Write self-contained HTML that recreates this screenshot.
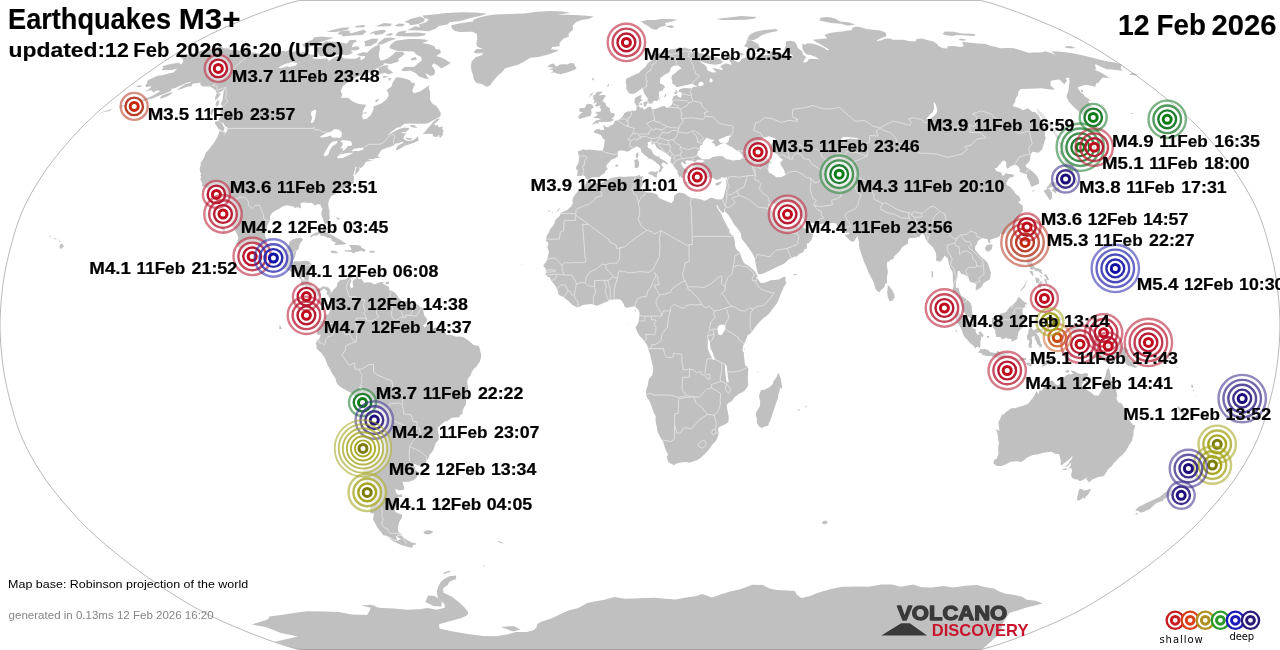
<!DOCTYPE html>
<html><head><meta charset="utf-8"><title>Earthquakes M3+</title>
<style>
html,body{margin:0;padding:0;background:#fff;}
body{width:1280px;height:650px;overflow:hidden;font-family:"Liberation Sans",sans-serif;}
svg{display:block}
</style></head><body>
<svg width="1280" height="650" viewBox="0 0 1280 650">
<rect width="1280" height="650" fill="#fff"/>
<path d="M162 66.3L169.3 64.2L178.8 62.8L181.3 64.6L183.2 61.8L182.7 59L179.6 56.8L183.9 55L194.6 52.9L202.1 50.2L209 49.1L221.2 46.7L224.2 48.2L229.8 48.4L229.6 49.7L237 50.2L242.1 50.7L248 50.9L252.6 52.4L257.1 52.9L260.9 54.9L266.9 53.2L272.3 53.1L279.3 51.5L285 50.7L285.1 52L289.7 49.4L289.2 52.9L296.5 50.7L296.2 53.2L304.3 52L310.4 54.6L316.5 54.9L312.3 58.6L320.1 58.9L326.1 58.2L329 59.7L327.3 62.1L333 58.3L337.1 56.3L340.8 56.5L344 58.5L350.4 58.7L355.7 58.7L360.3 56.3L360.7 60.4L364.7 58L365.2 54.6L370.3 49.5L374.5 46.5L379.5 44.6L380 47.9L379.4 51.2L379.1 52.9L378.7 56.3L380.4 60.4L383.9 60.1L388.2 58L393.1 54.6L395.6 51.7L403 52L404.5 53.9L402.1 56.3L398.4 58.7L398.6 61.5L390.9 63.9L384 63.2L383.4 64.9L378.3 67.4L373.1 71.3L363.5 74.2L357.9 76.3L351.5 79.6L347.5 82.5L342.7 86.5L340.7 91.2L342.3 94.5L340.9 97.7L348.2 97.7L352.7 101.5L358.7 104.1L366.3 104.7L362.9 111L362.2 116L363 119.5L366.8 118.7L371 114.8L373.6 109.1L373.3 106.4L381.3 103.4L386.2 99.6L388.7 95.8L388.1 92.1L386.3 90.2L391.5 86.5L392.5 82.9L395.6 78.1L397.6 77.2L402.6 78.1L406.9 79.2L410.7 80.7L411 82.5L415 82.9L414 86.5L412.1 90.2L413.6 93.2L420.1 91.4L424.6 88.4L429.2 85.3L428.9 88.4L430.1 92.1L429.9 99.4L432.2 103.4L436.3 106L438.5 109.1L440.8 112.9L440.4 116.4L435.6 119.1L427.5 123.4L424.3 123.7L418.7 123.7L412.1 123.4L404.6 123.7L400 127.3L397.3 127.6L391.7 131.6L386.5 135.9L392.9 132.3L399 129L404.2 127.6L408.7 128L409.1 129.2L405.4 132.3L401.4 132.1L403.4 133.5L406.5 132.7L403.9 136.3L403.5 139L405.6 140.2L408.5 141L412.1 140.6L414 139.8L417.8 136.3L418.2 137.8L418.9 140.2L414.2 142.8L408.8 144.6L404.9 145.7L401.2 148.1L396.8 150.5L395.8 148.9L397.9 145.7L403 143L403.3 141.4L397.9 143.2L394.8 143.8L394.3 145L389.8 146.9L386.9 147.7L383.8 149.1L382.2 149.5L379.9 151.9L379.6 153.5L377.9 154.7L378.3 156.3L378.7 157L380.2 156.9L380.1 155.8L380.3 157.4L378 157.9L375.3 158.3L373.4 158.9L370.1 159.1L367.1 160.3L372.8 159.7L373 160.1L369 161.3L365.5 162.1L364.1 165.1L362.5 166.7L360.2 168.3L359.3 166.5L359.5 168.9L359 170.7L357.5 172.5L354.4 175.6L355.3 172.5L355.6 169.7L357 166.5L355.4 167.3L354.4 170.9L353.2 176.1L354.1 176.4L353.8 179.3L353.6 183.1L349.5 185.7L347.2 185.7L343.9 188.7L340.5 189.4L338.5 191.6L336 193.2L332.7 195.4L331.1 196.2L329.1 199.8L328.4 202.6L328.3 205.1L328.8 208.3L329.5 210.5L329.5 214.3L329.8 217.5L328.8 221.2L327.4 223.6L324.9 223.9L323.4 220.8L323.3 219.7L322.3 217.5L321.5 214.7L321.2 213.1L322.5 208.7L321.6 207.7L320.4 204.7L318.5 204L314.2 205.6L313.4 203.8L311 202.7L308.6 202.9L305.9 202.6L302.9 202.6L300.2 203.4L300.7 204.2L300.6 205.9L301.2 207.5L299.6 208.6L298.3 207.1L294.9 208.1L293.3 206.3L290.3 206.1L288.1 205.3L285.2 205.5L281.5 207.1L279.4 208.7L275 210.9L272 213.1L270.7 215.1L270 217.1L270.1 220.6L267.8 224.4L266.3 229.2L264.8 235.4L266.2 238.5L265.9 240.7L266.9 243.3L268.9 247.7L269.7 249.5L272.4 250.3L274.3 251.9L277.6 250.9L280.7 250.1L283.7 249.9L285.6 248.9L287.9 247.1L288.8 245.1L289.6 241.7L291.5 239.9L292.8 239.3L298 238.1L302 238.1L302.8 239.9L301.2 242.1L299.8 243.7L299.2 246.5L298.1 249.7L296.5 250.5L295.6 254.6L294.9 257L293.6 259.6L292.3 261L293.3 261.7L295.6 261.2L299.6 261.5L302.5 260.9L306.1 260.7L308.5 261.3L312.1 264.6L310.9 268.5L310.1 272.7L309.5 275.5L308.8 276.7L308.6 281L310.7 284.7L312.2 286.4L313.3 287.4L315.2 288.8L316.9 289.6L318.7 288.6L321.7 287.3L322.6 286.6L324.9 286.6L328.4 287.6L330.5 290.1L331.7 292L332.1 293.2L332.6 290.8L334.3 288.8L336.6 286.8L337.4 283.1L340 280.3L342.3 279.7L345.5 279.5L347 278.5L351.6 274.9L353.5 276.3L352.7 277.5L350.4 278.3L351.4 280.9L349.8 284.7L351 288.4L353.2 287.2L352.5 281.5L353.6 279.9L356.2 278.7L356.3 277.3L357.5 275.9L358 277.9L358.5 279L361.1 278.9L363.1 281.1L364.1 282.8L367.9 282.3L371 282.4L373.9 284.3L375.7 284.1L377.5 282.9L380.9 282.1L384.3 281.9L385.9 281.8L383.5 282.5L382.1 282.9L384.1 284.3L385.5 285.2L388.6 286.8L389.3 288L389.1 290.4L392 290.6L392.6 291.6L395.1 292.8L397.1 295.6L398.3 297.6L400.5 299.6L402.2 301.1L408.8 301.3L412.9 301.7L418.7 305.2L421 308.1L421.9 307.5L423 309.3L424.3 315.7L426.7 318.2L427.1 320.6L425.2 324.2L422.9 324.9L424.6 327.4L428.5 323.8L430.2 325.6L432.4 326L432 328.2L432 330.8L433.8 327.8L436.1 327.4L440.9 329.4L444.5 331L446.7 334.7L449.9 334.7L455.2 336.3L455.9 336.7L460.6 336.5L463.8 337.3L467.7 340L471.3 343.1L473.5 344.9L478.6 345.9L479.6 348.3L480.6 352.8L481.1 353.8L481 357.4L479.9 361.6L478.1 363.9L475.9 367.3L473.6 369.1L471.8 372.1L470.5 375.7L468.9 377.3L467.3 380.5L467.5 384.6L468.1 388.6L467.7 391.4L467.5 396.2L466 399.1L466.1 403.9L464.4 406.7L462.6 410.7L462.5 413.6L460 415.2L459.3 417.2L455.2 417.4L451.4 417.8L450.1 419L447.9 420.8L444.8 421.6L442.6 423.2L439.7 426L437.8 427.6L437.8 430.5L438.9 436.1L438.7 439.7L435.8 442.9L434.6 446.6L433.2 450.2L431.3 453L429.6 454.4L428.6 458.2L426.5 460.8L425.6 463.5L422.3 465.8L418 465.5L415 463.9L412.1 463.7L409.8 461.9L410.5 464.3L413.8 465.9L415.3 467.7L415.2 469.9L417.6 471.1L418.2 473.5L416.5 477.9L413.3 480.3L409.4 481.5L404.5 481.9L402.5 481.5L403.1 483.9L404.3 487.9L404.2 489.5L402.7 490.1L399.6 490.5L395.3 489.1L395.8 491.9L397.1 494.3L398.7 494.7L401.5 494.3L402.4 497.1L400.2 497.1L397.9 496.9L398.6 499.1L398.6 501.9L399.5 504.3L398.8 505.8L396.5 506.6L394.6 509L395.3 511.8L398.5 513.5L401.9 514.5L402.2 516.7L401 519.2L399.5 521.6L399.1 522.7L398.2 525.9L397.8 529L398.4 531.7L400.1 533.2L402.3 534.5L399 534.8L396.5 535.9L396.2 537.7L397.1 540.1L396.4 540.5L392.6 539L388.9 537.1L385.7 535.5L383.6 535.5L380.2 531.3L377.4 527.4L375.2 523.5L373.1 519.6L373.5 516.1L374 513.7L370.2 512.9L370.3 509.4L370.7 505.8L370.7 501.9L369 499.1L367.8 495.9L367.4 493.1L367.3 491.1L366.3 487.9L366.5 485.3L366.4 483.1L364.4 479.9L362.7 476.3L362.7 474.7L363.5 472.9L363.6 469.9L363.8 467.1L364.5 463.5L364.8 460.2L364.3 458L363.9 454.6L363 451.8L361.4 447L362.3 445.6L361 441.7L361.2 439.7L361.5 435.7L361.8 434L361.8 430.9L361.8 427.2L361.4 423.6L361.1 420.2L360.4 418L360.9 414L360.6 409.5L360.2 406.3L359.6 402.7L358.8 399.4L354.8 396L352.2 393.6L349.6 392L345.9 390.2L343.6 388.8L340.4 387L337.5 384.2L335.8 380.9L336.1 380.1L334.8 377.3L332.1 373.5L330.3 369.7L327.9 365.7L326.2 361.5L324.6 357.6L322.2 354L320.9 352.4L318.5 350.4L316.5 348.3L316.6 345.4L315.7 343.8L317.1 340.7L318.7 339.1L319.5 338.3L320.4 335.9L320.5 333.9L319.1 335.3L316.6 333.9L317.4 331.4L316.9 329.2L318.4 326.6L319.6 325L319.9 321.8L321.3 321.1L324 320L324.4 317.8L325.9 314.5L328.3 314.5L330.6 309.3L329.6 307.7L329.2 302.9L330.1 299.6L329.6 297.8L328.3 295.9L327.3 294.8L326.5 292.6L327.4 291.6L326.4 290.8L324.4 288.8L322.9 288.9L322 290.4L319.6 291.6L319.3 292L320.2 294L320.9 294.9L319.4 295.8L317.6 296L317.2 294.4L315 292.6L313.2 292L310.9 291.8L310.8 292.7L309.7 291.2L309.4 291.3L307.8 291L308.3 289L306.4 287.2L304.9 286.4L304.3 284.9L303.3 286.5L301.3 285.2L300.9 283.3L301.2 281.1L301.6 280.3L299 277.5L297.4 275.5L295.2 273.1L296.6 272.7L296.3 271.3L295 271.5L292.5 271.9L289.8 270.9L288 270.3L284.7 269L281.7 267.6L279.9 266.4L276.7 262.4L274.8 260.6L272.1 259.8L270.3 259.9L267.3 261.6L265.5 262L263.6 261.2L260.4 260.2L257.9 258.6L254.2 257.2L250.6 255.4L248.9 254L246.8 252.8L242.5 251.3L240.2 248.3L238 246.9L236.2 242.9L238 241.9L237.3 240.5L238.4 238.3L237.6 235.2L235.7 231.6L234.4 228.4L231.8 226L230.6 223.6L228.7 222L228.2 219.1L227.3 217.1L225.4 215.1L224.8 212.6L222.9 210.7L221.6 208.3L221.6 205.1L220.9 201L220.1 199L218.2 198.2L216.6 197L215.3 200.1L214.7 204.2L216.8 208.3L218.2 212.3L219.4 215L219.9 216.7L221.1 220.3L222.1 224.4L223.1 227.8L224.7 228.4L225.4 230.8L224.2 232.2L223.3 232.9L222.6 230.6L220.6 228L217.2 226L216.7 225.2L218.3 221.6L216.3 219.5L214.2 217.3L211.9 215.7L210.3 212.9L213.7 212.3L214.3 209.9L212.9 206.7L210.8 204.7L210.8 201.8L210 198.2L210.5 196.7L209.8 194.1L209.7 193.4L210.1 191.8L208.9 189.8L207.5 189.2L207.6 188.1L205.5 187.5L204.2 186.5L201.7 186.3L202.4 183.5L202 182.6L201.2 181.3L200.3 178.9L200.9 177.7L201.2 176.3L200.3 175.3L201.2 173L199.9 172.1L199.9 169.7L199.6 168.3L200.7 165.7L200.6 162.3L202.1 160.9L204.3 157.1L205 154.9L205.8 152.7L208 150.5L211.7 145.7L214.3 142.2L216.1 139.2L217.6 136.7L218.5 133.9L219.6 130.9L223.1 131.8L225.2 132L224 135.1L227 131.2L227.6 129.4L227.3 127.3L225.4 126.5L224.4 125.3L223.7 123.4L220.6 122.2L219 121L218.3 120.1L220.6 116.8L220.2 114.1L220.7 111.8L219.9 110.2L221 107.9L222.7 106.4L221.4 105.3L220.7 103.9L222 101.5L222.6 99.6L222.7 97.7L223.5 92.9L223.6 91L225.3 88.6L222.2 91L219.2 92.5L216.6 93.2L215.7 90.6L213 88.2L210.1 86.5L202.7 86.5L201.4 85.4L200.1 84.5L200.7 82.5L196.6 83.2L192.7 83.7L191.1 86.5L187.2 86.5L184 88L179.4 89.5L176.6 89.7L179.9 87.8L184.4 84.5L189.2 82.9L191.6 81.8L188.9 82L183.9 84L179 86.2L175.4 88L171.2 88.9L171.3 90.8L165.6 93.2L160.6 95.1L154.1 97.7L145.5 100.4L140.2 102.2L135.9 103.4L131.7 104.5L127.3 105.3L124.1 106.2L118.6 107.2L121.9 105.3L126.4 104.7L130.9 102.6L136.6 101.5L141.7 99.6L147.7 97.7L153.2 95.5L157.1 92.9L160.3 91.2L159 90.8L157.1 90.2L153.2 92.5L151.6 90.2L145 91.5L148.5 89.5L151.2 86.9L150.7 86.2L145.9 87.3L145.4 85.4L147.1 83.2L147.1 81.1L148.6 80L153.2 77.8L158 75.6L162.1 75.3L167.3 73.8L173.2 72.5L175.7 70.2L177.1 68.8L171.9 70.1L169.1 70.1L163.7 70.2L161.5 69.9L163.6 67.6ZM402.2 535.7L404.3 538.2L407 540.1L411.7 542.4L416.4 543.4L415.8 544.5L413 544.9L412.3 548.1L406.4 546.6L401.2 545.1L397.2 543.2L393.2 541.3L389.4 538.6L384.8 536.7L390.3 538.6L396 540.9L398.9 540.1L401.1 539L397.4 537.1L397.4 535.9L399.3 535.3ZM423.2 532.5L426 530.5L429.3 530.3L433.2 531.3L431.7 533.2L428.8 534.4L425 534ZM496.3 540.9L501 541.7L503.7 543.8L501.5 543.2L498.2 542.1ZM309.5 237.1L312.1 234.4L316.3 232.4L319.5 231.7L323.3 231.8L325.7 232.2L328.6 233.4L331.9 234.8L335.1 236.9L337 238.1L340.3 239.7L342.8 241.5L346.3 243.5L345.6 244.3L340.3 244.7L336.1 244.9L333.6 245.2L336.1 242.7L333.4 241.7L331.5 240.3L331.1 238.1L327.3 237.7L325.1 236.2L320.6 235.6L319.5 233.8L316.5 235.6L313.3 235.8L311 237.5ZM344.3 251.1L347.9 251.7L351 251.7L353.6 253.6L355.9 251.7L358 251.7L360.2 250.7L364.3 251.7L365.7 250.1L363.6 248.5L361.6 248.1L360.8 245.9L358.1 245.3L354.6 245.1L351.5 244.9L348.7 245.1L350.5 246.9L351.6 250.1L347.7 250.3L345.3 249.9ZM330.6 251.1L332.3 250.5L335.4 250.9L337.7 251.9L337.9 253L335.4 253.2L332.6 253.2L330.7 251.7ZM369.7 250.7L373.6 250.7L375.2 251.1L374.2 252.5L371.6 252.7L369.5 252.5ZM385.7 281.9L389.1 281.5L388.7 284.1L385.5 284.5ZM335.4 217.5L337.1 217.5L339.4 218.1L339.9 219.1L338.7 219.9L336.6 218.3ZM334.6 223.8L336.3 224L336.1 227.2L334.9 228.4L334.2 226.4ZM215.2 121.6L218.4 121L221.5 123L222.8 124.5L223.5 126.5L224.7 127.8L224 130.6L223.3 131.2L220.2 130.2L218.2 128.6L217 126.5L215.1 124.1ZM212.2 108.5L216.2 108.7L213.1 111.8L211.6 115.6L210.5 114.5L210.4 112.2L210.9 110.2ZM440.4 118.3L437.9 121L434.3 124.1L435.9 125.7L437.9 124.5L438.4 127.3L442.7 126.5L442.3 129.6L443.7 130L442.6 133.5L443.5 134.1L440.9 137.6L439.4 137.6L439.2 134.3L437.5 136.7L434.3 136.7L432.7 135.9L433 133.9L428.4 133.7L422.7 133.9L425.5 131.2L427.5 128.4L429.9 126.1L432.9 122.2L436.2 119.3ZM405.3 137.6L408 138L412.6 138.4L410.4 140.2L407.4 139.6L405.9 138.6ZM409.9 124.9L414.4 125.3L417.4 128L415 127.8L411.2 127.1ZM161.9 95.5L165.5 94.3L171.5 92.1L171.8 93.4L168.9 95.5L163.2 97.9L160 98.5L160.5 97ZM137.2 85.8L141.6 85.1L141.3 86.4L138.7 87.3L136.3 86.7ZM1129.4 74.2L1132 73.1L1137.8 74.5L1136.6 75.4L1130.9 74.9ZM104.5 111.8L110.2 109.3L112.5 109.1L109.2 111L105.4 112ZM98.9 113.5L104.7 111L105 111.6L101.2 113.1ZM1171.6 116.8L1174 115.6L1177.8 116.4L1174.6 116.8ZM1164.9 117.9L1167.5 117L1170.3 117.9L1167.1 118.3ZM1130.7 113.3L1133.1 112.9L1133.5 113.7L1131.6 113.9ZM217 93.2L221 93.6L218.3 97.7L214.8 100.4L215.3 97L216.1 94.7ZM217.8 100L219.3 101.5L218.4 105.3L215.9 106.4L215.6 104.1L216.3 101.9ZM59.9 245.5L61.1 243.5L63.3 244.9L64 246.5L60.4 248.9L59.6 248.1ZM58.8 240.7L60.5 240.7L61 241.7L59.5 242.1ZM53.8 238.3L55.2 237.7L55.8 239.3L54.3 239.3ZM49.2 236L50.7 235.4L50.8 236.7L49.7 236.9ZM56.9 239.7L58.9 239.7L58.2 240.3ZM278.8 325.2L280.9 326.6L281.7 329L279.2 329L279.5 327ZM486.7 87.1L482 84L476.3 82.9L473.8 79.2L473.2 75.6L471.8 71.4L470.8 67L471.5 61.7L475.6 57.3L482.1 54.9L483 52.9L476.4 53.6L473.8 52.2L476.3 48.9L482.9 48.9L477.8 46.9L476.4 44.6L476.7 42L477.3 38.1L476.8 34L472.6 31.8L459.6 32.1L455.3 30.9L452 28.7L451.1 25.2L462.2 23.1L472.9 21.5L474.1 19.3L479.2 17.4L487.8 15.4L495.2 14.4L510.3 14.1L523.7 13.4L537.5 11.8L549.7 11.1L562.8 11.6L570.4 12.9L557 14.4L573.8 14.9L584.3 15.4L593.6 16.4L589.6 18.7L581.5 20.1L576.3 22L572.6 25.8L573.1 29.4L568.7 33.4L568.9 36.5L563.3 38.7L559.5 42.9L559.7 46.2L552 46.9L551.1 49.5L558.7 49.7L557 51.2L548.2 54.6L538.4 57L530.3 57.7L523.4 62.1L516.9 65.3L512.2 66.3L504.9 68.5L502.2 72L498 75.6L493.1 81.1L489.9 85.4ZM550.6 72.7L554.7 72.6L556.9 73.6L560.4 74.2L566.2 72.7L571.4 71.1L575 69.5L576.6 68.2L574.5 64.9L574.5 63.6L570.4 63.1L567.2 64.4L564.5 64.3L559.9 64.6L556.7 66.7L555.1 65.6L553.8 63.4L549.8 64.6L547.3 66.7L552.5 67.4L552.8 68.5L547.9 68.9L553.1 70.2L552.8 71.5ZM450.7 62.8L447.6 64.9L441.5 68.5L438.7 66.3L434 63.2L431.6 65.6L435 70.2L434.6 74.5L430.8 76L425.2 72.9L428.2 78.5L429.5 79.6L424.6 78.5L419.1 76.5L415.5 73.1L410.3 70.6L404.3 71.2L401.1 70.2L404.6 67.1L414.3 66.7L418 63.2L421.8 60.4L421.1 57L416.4 54.6L413.6 51.5L406.2 51.2L398.6 51.2L394.6 49.9L389.3 47.9L390.7 44.6L395.8 40.7L408.4 39.1L418.1 39.1L425.2 39.4L427.6 41.3L422 42.9L428.6 43.9L434.3 46.2L435.8 49.2L440.3 49.6L440.8 52.9L436.1 55.9L440.4 57.3L445.5 59.5L448.3 61.5ZM378.5 67.8L384.2 65.6L388.5 65.3L387.4 68.5L390.5 70.6L393.3 72.7L388.7 74.2L384.3 72.7L377.2 74.9L375 73.5L378.8 71ZM383.3 76L386.1 76L388.1 77.1L383.1 78.1ZM389 77.8L391.5 78.5L389.2 80.7L388 80ZM362.4 112.9L365.7 112.3L367.4 113.1L364.4 113.7ZM376.2 99.6L379.4 99.2L376.9 101.9L375.1 101.5ZM316.6 49.2L318 53.6L320.2 56.3L329.7 55.9L338.8 54.6L347.2 55.3L352.9 52.9L350.7 50.5L357.4 50.2L359.9 48.2L357.7 46.2L351.7 47.2L353.1 43.6L357 41.3L355.2 39.7L349.5 40.3L346.9 43.6L340.6 42.6L335.2 42L326.2 41.3L317.6 45.2L323.5 46.5L317.7 47.2ZM302.2 44.6L304.3 47.2L310.9 46.5L318 42.9L328.7 39.4L333.7 37.5L327.9 37.3L322 36.4L314.3 37.2L312.4 39.7L306.9 42ZM356.2 54.6L363.4 51.9L367.6 52.9L367.2 55.3L361.8 56.3L358.6 55.6ZM364 41.6L372.6 38.4L378.3 38.7L376.9 42.3L370.6 45.9L364.9 46.5L365.2 43.9ZM376.5 44.6L380.3 41.3L384.3 38.1L390.4 37.6L396.4 38.4L389 41.3L381.9 44.6ZM395.1 35.6L398.3 31.8L406.8 30.6L405.1 33.1L417.7 32.4L426.2 33.4L424.4 35.6L418.2 36.5L408.5 36.5L399.2 36.2ZM385.1 34.9L390.9 33.1L393.4 34L390 35.9ZM368.7 33.7L374.8 30.9L383.4 29.7L386.5 30.9L382.3 34.3L375.5 34.9L373.9 33.4ZM337.4 34L340.3 31.2L349.4 30.6L350.1 33.4L359.5 30.9L363.6 29.4L366.5 31.8L362.3 34.9L351.9 35.6L342.2 36.5L342.5 34.9ZM326.4 31.8L333.3 29.7L342 27.8L349.9 27.2L346.8 30L337 31.8L331.8 32.1ZM354.7 26.3L362.7 24.9L365.9 25.8L363.7 27.2L356.3 27.5ZM375.3 26.3L383.9 22.9L391.7 23.7L390.7 26.1L382.9 26.6ZM394.5 25.8L398.8 23.4L404.8 24L402.5 26.6L397.9 26.6ZM404.2 22L411.1 18.7L420.6 16.6L425 19L423.9 21.5L418.4 24L410.1 25.2L408.6 22.9ZM407.2 30.3L415.4 26.3L420.1 27.2L418.8 24.6L426.2 22.3L429 19.3L424.2 17.9L422.4 15.4L433.5 14.4L446 12.9L461.7 12.3L476.1 12.5L487.4 13.7L479.8 15.9L469.7 18.2L460.2 20.9L449.7 22.3L447.6 24.6L438.7 26.1L435.7 28.7L428.4 31.2L419.7 30.6ZM418.4 39.1L425.2 39.4L428.6 41L423.1 41.6L417.6 41ZM411 58.3L415.9 57L416.8 59.4L411.8 60.8ZM641.1 21.2L647.7 19.9L654.4 20.1L661.9 19L670.7 18.9L677.5 19.8L671.2 21.7L664.8 23.1L666.2 25.2L659.6 27.2L656.4 30L651.6 28.7L648 26.1L643.4 23.4ZM665.2 26.1L671.9 25.2L674.5 27.2L670.1 28.1ZM744 45.9L746.5 42.9L746.6 40.3L751.5 40.3L758.1 43.9L760.1 48.2L754.2 49.2L748.7 48.2ZM747.1 39.7L748.5 36.5L750.8 34L755.5 31.8L763.8 30L776 29.1L778 30.9L770.1 32.4L762.1 34.9L757.8 38.1L753.8 40ZM716.7 18.7L727 17.7L741.3 16.1L756.9 16.9L753.9 18.7L745.9 19.8L732.8 20.1L721.7 20.1ZM819.5 20.6L820.6 17.7L826.2 16.9L835.3 19L840.5 21.5L848.2 22.3L855.5 24.6L847.8 25.8L840.9 23.7L830.9 22.9ZM838.5 19.8L831 18.2L826.2 16.9L831.2 17.4ZM942.6 34L944.9 31.5L953.6 31.8L961.9 33.4L968.9 34L975.8 34.6L974.2 35.9L961.2 35.3L957.2 34.9L952.5 35.9L945.6 35.3ZM958.2 40L960.9 38.4L966.4 39.7L964 40.7ZM964.1 34L969.1 33.4L975.3 34.3L972.5 35.6L967.2 35.3ZM1064.9 47.5L1066.3 46L1071.5 46.2L1075.5 47.9L1071.2 48.4ZM738.8 53.9L741.5 52.9L744.2 54.6L741.2 55.6ZM763.6 50.5L767 49.5L769.2 51.5L765.6 52.2ZM643.1 89.9L641.7 87.3L641.4 89.1L639.1 90.2L636.5 92.5L634.2 93.4L631.5 94L629.9 93.6L627.6 91.7L627.4 90.4L626.3 89.1L626.4 85.1L625.7 82.9L626 80.7L626.4 78.5L629.2 77.5L631.7 76L633.7 75.3L636.4 73.8L638.9 73.1L640 71.7L641.6 69.9L643.2 68.8L645.4 67.1L646.7 64.9L648 62.8L650 61.5L651.6 60.5L653.1 58.7L647.9 58.3L651.7 56.6L652.9 54.6L655.7 53.6L658 53.2L663 52.4L664.2 50.9L668 50.5L670.4 49.2L674.7 49L679.8 47.3L682.9 47.9L684.6 47.4L686.8 48.2L689.4 48.9L693.7 50L688.5 51L691.4 52.1L693.8 52L697.5 51.4L699.1 53.1L704.5 53.9L708.6 54.9L713 57L717.7 57.7L720 59L722 60.8L722.9 62.1L721.2 63.5L716.1 64.8L709.3 63.9L705.1 63L699.4 61.1L701.1 62.8L704 64.2L706.6 66.7L707 68.6L707.7 70.6L712.4 72.4L716.8 72.3L714.7 70.6L712.3 68.1L714.8 68.3L718.5 69.2L721.4 69.9L722.8 70.1L721.7 67.8L720 66.3L722.3 64.9L725.6 63.2L729.3 64.2L731.4 64.9L731.2 63.2L729.8 61.1L728.7 59L728.4 58L726.4 55.8L729.7 56.3L733.8 57L735.6 58.7L733.2 59.4L736.7 62L739.8 61.8L741.1 59.4L744.5 57.7L750.6 56.6L754.8 57.3L757.1 56.6L763.2 55.6L766.8 54.9L770.5 54.6L768.7 52.2L770.5 51.7L772.4 52L779.1 53.6L782.2 54.6L786.2 54.9L788.2 55.3L792.4 57L792.7 54.9L787.4 52.2L784.6 50.2L784.7 47.9L786 44.9L786 42.6L786.4 41.3L791 40.7L795 42L796.6 44.6L797.8 47.9L802.2 51.2L802.9 54.6L806.3 57L804.3 59.7L803.1 62.5L806.9 62.1L808.3 59.7L810.3 58.7L817.1 59L820.1 59.7L815.9 57L810.8 54.9L806.7 54.6L803.5 51.2L802.3 47.9L802.5 45.2L801.6 43.9L805.8 44.6L807.4 43.3L811.4 43.6L815.8 44.6L818.9 45.6L824.3 47.9L827.1 50.2L829.2 49.5L824.9 46.9L820.8 44.6L812.4 39.7L820.4 39.1L826 38.4L827 38.1L824.3 34.9L829.8 33.1L837.2 32.1L842.5 31.5L847.4 30.6L851.7 30.3L852.5 27.8L856.4 26.6L861.4 27.5L866.7 29.1L873.2 29.7L880.2 30.6L884.4 32.1L886.4 33.4L885.9 36.5L881.6 38.1L877.5 40L876.3 41.3L881.5 40.3L884.7 38.7L890.2 38.4L893 39.7L904 39.7L909.5 41.3L915.6 41.3L916.7 39.1L922 38.4L926 39.7L933.3 41.6L937.9 44.6L937.8 45.7L943.3 48.2L947.5 48.5L947.3 46.2L949.9 46.2L953.2 45.9L960.7 46.9L963.7 46.2L962.5 43.3L962.3 41.8L967.8 42.6L977.8 43.6L985.7 43.9L990.8 45.9L994.2 46.5L1000.2 48.2L1007.3 47.9L1014.1 48.2L1022.8 50.9L1029.4 52.9L1031.3 52.4L1036.6 52.5L1042.6 52.2L1045 51.2L1051.2 52.9L1055.9 55.3L1051.4 51.2L1058.2 51.5L1065.6 52.2L1074.1 53.6L1081.3 54.9L1089.5 57L1100.1 59.7L1108 61.5L1114.8 62.5L1120.7 64.3L1121.8 64.8L1121.3 66L1120.8 68.5L1123 70.6L1120.6 70.6L1116 69.9L1111 69.2L1107.4 69.5L1100.8 66.7L1095.3 63.9L1095.4 66.7L1096.6 69.5L1093.7 69.4L1099.9 72L1105.1 74.9L1109.8 78.3L1102.8 77.4L1100.4 80L1098.4 82.9L1096.1 83.2L1095.4 86.7L1086.5 84.7L1082.1 85.8L1080.1 86.5L1077.7 86.9L1078.6 89.5L1080.5 92.1L1083.1 94L1084.7 96.6L1088.6 98.8L1091 101.1L1088.2 100.7L1089.9 104.5L1092.7 106.4L1089.4 107.9L1092.3 112.5L1088.7 112.9L1091 116.8L1089.9 121.1L1084.9 117.2L1080.6 112.9L1074.1 107.2L1068.6 101.5L1066.4 96.6L1067.2 94L1068.5 90.2L1069 85.4L1069.6 81.1L1069.1 77.8L1065.7 78.1L1067 80.7L1064.3 84.3L1059.3 79.6L1053.4 80.3L1050.6 81.1L1050.6 85.4L1054.8 89.5L1050.5 89.5L1041.5 88.2L1036.5 88.4L1029.8 88.8L1020.7 89.1L1018.3 91.7L1018.1 94.7L1015.7 98.5L1014.8 102.6L1012.6 106L1019.6 108.3L1023.2 110.2L1025 109.5L1027.9 108.3L1032.3 111.8L1035.3 112.2L1038.7 115.6L1040.5 118.7L1042.7 124.5L1044.9 128.5L1044.8 134.3L1045.7 138.2L1044 143L1042.9 146.5L1042.3 149.3L1038.5 152.7L1032.8 151.7L1031 153.7L1030.7 154.9L1030.1 158.1L1030.2 160.1L1027.9 163.3L1025.4 164.9L1026.5 167.5L1030.6 169.7L1034.3 173.3L1037 176.1L1038.9 180.1L1039 183.7L1035.8 184.9L1033.1 186.5L1031.1 186.5L1029.5 181.7L1027 177.3L1026.8 174.3L1023.3 173.3L1019.7 171.7L1019.9 169.3L1017.8 166.1L1014.9 164.5L1011.2 166.1L1006.9 168.9L1006.3 166.1L1006.2 162.5L1004.6 160.5L1002.2 160.9L1000.4 164.1L999.3 164.5L997.1 167.7L994.9 168.3L996.2 170.9L1000 172.1L1001.6 172.9L1002 175.3L1003.8 175.7L1005.4 173.3L1009.3 173.9L1013.6 174.5L1013.8 176.7L1009.6 177.7L1008.2 179.8L1006.4 182.5L1006.7 184.9L1010.4 186.9L1013.9 191L1015.5 193.8L1019.2 196.6L1020.7 200.2L1018.3 202.2L1020.6 204.2L1022.4 204.7L1022.9 207.5L1022.9 211.1L1021.3 212.7L1019.9 215.5L1018.9 218.3L1018.5 220.3L1017.3 223.6L1016.4 225L1014.6 226.6L1012.2 229.6L1010.6 231.2L1006.7 233.6L1004 234L1002.4 235.2L1000.1 233.6L1000.3 235.8L996.9 237.7L993.9 238.5L990.2 239.7L990.4 242.9L988.7 243.3L987.3 238.9L985.2 238.7L983 238.1L981.4 238.5L977.6 241.3L977.2 243.7L975.2 246.5L975.1 249.7L978.2 253.4L981.2 257L983 258.4L985.3 260.2L988 263.4L989.6 268.6L991 273.1L990.3 275.7L990.5 277.3L989.6 279.5L986.9 281.1L983.6 283.3L982.6 284.7L982.3 286L980.7 287.6L978.3 289.2L975.7 290.4L975.8 286.8L976.6 284.7L974.3 283.1L973.2 282.5L970.7 282.3L969.2 280.3L968.7 278.3L967.1 276.3L964.8 274.7L962.3 274.1L960.9 274.1L960.8 272.9L959.2 270.7L957.5 271.5L957.6 274.3L957.3 277.5L955.9 281.9L955.8 286.4L956.6 288L958.5 287.6L959.3 291.2L961.3 296L963.8 297.2L966.4 299.6L967.3 300L970.1 302.5L970.7 303.5L971.9 306.9L971.8 309.7L972.3 313.7L973.5 315.1L975 319.4L973.4 320L972.4 319.8L970.6 318L967.9 316.1L966.2 314.9L964.6 312.9L962.5 309.3L961.8 308.1L960.7 303.3L960.4 300.4L959.3 298.6L957 295.6L955.1 292.6L953 293.6L952.7 290.4L953.6 285L952.9 280.7L952.8 274.9L952.5 271.5L950.5 268.6L949.1 264.6L947.7 258.6L946.1 257L944.8 255.4L943.1 258.2L940.6 261.4L938.9 261.6L936 260.6L936.4 256.6L935.7 252.5L933.9 248.9L932.6 246.9L929.4 243.9L927.1 241.7L925.5 238.7L924.5 235.2L922.9 233.6L920.9 234.4L919.5 236.9L916.8 237.3L914.4 238.1L911.8 237.9L909.9 238L908.3 239.3L908.2 241.5L907.8 243.7L905 245.3L901.9 247.5L899.8 250.9L897 253.8L893.8 256.8L893.9 258.6L891.9 259.4L890.2 260L889.3 261.6L887.2 261.8L886.8 264.6L887.1 267L888 272.3L886.8 276.9L887.1 281.7L887.1 283.5L885.2 283.5L884.2 287.6L881.4 289.6L879.4 292.5L877 290.8L875.7 289.2L874.5 285L872.4 279.7L870.9 277.3L868.7 273.1L867 268.6L865.7 265.4L864.4 262.8L862.9 258.6L860.8 252.5L859.7 248.7L859 245.3L859.1 242.1L858.4 240.1L857.4 235.6L856.6 237.5L854.4 240.9L852.8 241.7L850.4 240.9L847.5 237.9L845.1 235.4L845.3 234.6L848.6 234.2L849.8 232.6L846.2 233.1L843.4 231.2L841.9 229.6L839.7 228.8L838.5 227.2L837.1 225.2L835.7 223.2L831.9 223L828.8 223.6L824.8 223.4L820.9 224L819 224.2L814.9 223.2L811.1 222.8L805 221.8L801.9 217.5L799.3 215.7L796.8 217.5L794.8 218.1L791.6 217.5L788 216.3L786.5 214.3L782.6 212.9L779.9 208.5L778.4 205.9L775.2 204.2L772.6 202.6L769.7 204.4L769.6 206.9L771.6 209.9L776.5 216.3L778.4 218.5L778.9 221.6L781 225.2L781 222.4L782.3 219.7L783.6 223.2L783.4 226L784.9 227.6L787.6 227.6L791.1 228L793.8 226.6L796.6 223.4L798.7 221.2L799.8 218.9L800.1 222L800.3 224L802 227L808.5 230L810.2 232.4L813.1 234.2L812.1 238.5L809.6 242.5L806.9 243.7L806.9 248.5L804.5 249.3L802.9 252.5L798.8 254L796.9 256.6L794.8 256.6L791.3 258L788.3 259.8L784.3 263.4L780.8 265.2L777.7 266.5L773.9 268.6L768.7 271.1L763.5 273.5L760 274.3L758.1 274.1L757.3 271.5L756 265.4L755.4 262.2L754.9 259L754.3 257L751.8 252.5L748.8 248.1L745.8 243.9L741.5 238.5L740.8 233.2L737.2 228L734.1 224.4L731.2 219.3L728.4 214.9L725.8 211.9L724.5 212.3L725.5 206.3L723.3 213.4L721 211.3L718.7 208.3L717 204.4L715.8 199.2L720.9 199.6L723 198.2L723.9 196L724.5 193L725.8 188.5L726.7 186.3L726.1 182.1L726.5 180.1L727.1 177.7L726.2 176.9L724.6 177.9L721.8 176.9L720 178.9L716.3 180L713.3 177.9L708.8 176.7L708 179.3L705.4 179.3L703.6 177.5L700.7 176.7L697.9 177.3L697.8 176L697.1 172.7L693.9 170.9L696.5 170.5L695.4 169.3L694.9 166.9L692.7 166.2L693.1 164.1L693.7 163.5L696.6 162.5L698.7 162.7L702.1 162.5L705 161.1L702.1 160.1L702.4 159.2L703.8 159.3L706.1 159.3L709.6 158.9L710.9 158.3L712.7 157.1L717 156.2L721.5 156L724.1 157.3L725.8 158.9L728.9 159.5L730.9 160.1L732.6 160.4L736.8 160.1L739.4 159.9L742.1 158.5L742.8 157.5L742.5 155.5L739.9 152.1L735.4 149.7L733.1 147.7L728.7 145.4L727 144.6L725 143.4L727.4 142.8L729.1 140L729.1 137.5L732.1 135.5L726.7 135.9L724.5 137.3L720 139L718.5 139.5L719.3 141.4L721.1 143L724.3 142.8L720.9 144L719.7 144.8L717.2 146.1L715.9 146.5L715.1 145.7L714.3 143.4L711.5 142.8L713.5 140.8L714.7 139.8L712.2 139.8L708.9 139L708 137.8L705.5 138.2L704.9 139.8L702.7 142.2L702.7 143.4L702.5 144.8L700.3 145.4L699.7 147.4L699.7 148.9L699.4 150.6L697.8 151.3L697.8 153.3L696.6 154.1L698.6 156.6L700.5 158.1L702.2 159.2L701.8 160.1L699.5 159.8L697.1 160.1L695.5 161.7L694.6 162.5L693.1 163.9L694.9 161.7L692.4 161.3L691.9 160.7L688.9 160.5L687 160.3L685.1 161.3L686.8 163.5L684.9 164.3L683.7 163.3L682.3 161.7L681.2 162.5L681.3 164.1L682.4 166.1L683.4 167.7L686.7 169.5L688.3 172.1L686.6 173.5L685.2 172.4L683 172.4L683.8 174.1L683.8 174.9L682.4 173.9L683 176.1L684 178.3L681.8 177.1L681.7 178.5L680.2 176.1L679.6 177.2L678.9 176.7L678.7 175.1L677.4 173.5L677.7 171.3L677.7 170.7L676.6 169.9L675.4 168.5L674.2 166.9L673.7 166.1L672.8 164.6L670.6 162.5L670.8 158.9L671.2 156.9L669.8 156.4L667.7 154.5L666.2 153.5L663.9 152.1L660.7 150.1L658.9 149.2L656.7 147.7L655.6 145.4L654.2 142.9L652.4 145.1L651.1 142.4L651.9 141.6L649.8 141.6L647.5 142.6L648.1 144.4L647.4 146.3L648.2 147.8L651.2 149.6L652.4 152.1L653.6 154.2L656.2 156.1L657.4 156.4L660 156.6L659.2 157.6L660.4 158.8L662.4 159.5L666 161.5L667.8 163.5L667.4 164.9L666.2 163.9L663.6 162.2L661.6 163.7L661.3 165.1L663.5 167.7L661.8 168.9L661.6 170.5L660 172.4L658.7 171.7L659.3 169.5L660.4 168.5L659.9 166.5L658.8 164.3L657.3 163.9L656.3 162.7L655.6 161.4L654.1 161.7L653.9 160.7L651.6 159.3L649.9 159.1L648.5 158.3L647.2 157L645.8 155.7L643.6 154.5L643.1 153.1L641.6 152.4L641 149.9L640.6 148.5L639.5 147.8L636.6 146.5L635.1 146.9L633.7 148.6L632 149L630.4 149.9L629.2 151L626.9 151.7L625 150.9L622.6 150.6L619.7 150.5L618.1 151.3L617.6 153.3L618.3 154.8L617.6 156.7L614.6 158.6L611.5 159.7L610.1 161.3L608.6 162.7L607.2 164.2L606.1 166.3L607.8 169.1L605.4 170.7L604.5 173.6L601.5 174.7L599.4 177.2L595.1 177.3L592 177.2L588.8 179.6L587.9 180.1L585.7 178L585.4 176.9L583.7 175.3L580.4 176.1L576.9 176L577.6 172.3L577.6 170.1L575.7 168.9L576.3 166.7L578.2 163.5L579.2 159.5L578.8 157.3L578.8 155.3L577.8 152.5L578.2 151.3L580.8 150.6L583.3 149L585.2 149.9L589.1 149.5L595.6 150.2L598.3 150.5L601.4 150.8L602.8 150.2L604.1 145.7L604.6 141.8L604.7 139.6L602.7 138.2L601.6 135.9L600.7 135.1L598.9 134.3L595 133.1L593.9 132.2L593.9 131L596.4 129.5L599.6 129L600.4 130.2L602.6 129.8L604.2 129.9L603.9 129.1L603.1 125.6L605.1 125.8L605.6 127.1L608.1 127.3L609.3 126.5L609.7 125.7L612.5 124.8L614 123.7L614.2 121.7L615 120.8L616.6 120.4L618.3 119.8L620.1 119.1L622.1 116.9L623.5 115L624.2 113.1L626.1 112.2L628 111.3L630.7 111.2L631.6 111.6L631 110.4L634.3 110.8L635.6 110.8L636.1 109.6L637 109.5L636.6 108.7L635.8 107.9L637.2 107.3L636 105.7L635.4 103.5L634.3 103.2L634.5 101.5L634.7 98.8L635.9 97.3L639.9 95.5L641.7 95L641.6 96L640.9 97.7L640.9 99.2L642.7 99.9L641.5 100.9L640.6 100.9L640 102.6L639.3 103.1L638.5 103.4L639.1 104.3L639.4 105.7L638.4 106L640.4 107.8L643.3 107.4L642.7 109.3L644.3 109.5L646.3 108.4L647.5 107.3L650.1 106.5L650.9 107.1L652 108.9L652.7 109.4L656.6 108.4L660.4 106.9L662.5 106.2L665 106L665.8 107.6L668.1 107.8L669.5 106.6L671.2 105.5L672.8 102.6L672.2 99.6L673.6 96.2L676.5 94.9L678.1 96.4L680.3 97.8L681.1 97.5L681.6 94.9L681.8 92.6L678.9 91.9L678.7 90.4L680.1 88.9L682.1 88.6L685 88L691.5 88.6L692.4 87.7L694 86.7L697.4 86.8L695.8 85.8L692.7 84L688.6 84.5L682.4 86L676.8 87.2L674.6 84.9L672.1 83.6L672.3 82.4L672.3 80.9L671.4 78.1L671.8 75.3L673.8 74.2L675.8 72.6L679.2 69.6L681.7 68.5L679 65.9L677.8 65.6L675.2 65.6L672.6 66.4L671 67.4L670.3 69.5L670 71.3L668.2 72.9L665.5 74.2L662.9 76L662 76.9L660.4 77.8L660 80.2L659.9 81.8L660.3 84L662.3 84.3L664.3 85.4L664.9 87.5L663.2 89.1L662.8 90.6L660.1 91.2L658.7 91.7L659.3 94.9L658.8 96.7L658.6 99L657.8 100.7L656.5 100.9L654.3 100.8L652.7 101.8L652.9 103.2L651.3 103.6L648.3 103.8L648.9 103L647.9 101.3L647.2 100.4L648.3 99L646.6 97.3L645.5 95.1L644 93.2L643.4 90.5ZM591.6 124.3L593.7 123L595.5 120.6L598.8 119.9L601.2 118.7L599.8 118.8L597.4 118.3L594 118L593.4 117.2L595.4 116.4L597.3 115.2L597.4 113.3L595.4 113.7L596 111.8L598.5 111.8L600.7 111.4L600.9 109.8L601.6 108.7L600.4 108.7L599.4 107.2L601.2 105.5L599.6 105.7L597.1 106.4L595.8 106.7L595.2 105.5L596 104.3L596.7 103.5L596.1 101.7L593.3 104.1L594.1 101.5L594.6 99.9L592.6 98.7L593.8 97.7L592.6 95.8L594.5 95L595.7 94L596.9 91.7L601.1 91.7L602.6 91.5L602.3 92.4L599.8 94.3L598.7 95.8L601.4 95L605.2 95.1L605.8 95.8L604.8 97.2L603.6 98.8L603.1 100.4L601.1 101.6L603.2 101.5L604.6 102.4L605.7 103.4L606.1 105.3L606.7 106.6L608.3 107.3L609.9 108.6L610.3 110.7L609.1 110.2L609.8 110.7L610.9 112.3L610.4 113.5L611.3 113.1L613.7 113.2L615 114.5L615 115L613.7 117L613 117.6L611.6 118.7L613.7 119.2L613.4 120.2L612.3 121L610.1 121.7L606.9 121.7L605.3 122.2L603.5 121.7L601.7 122.5L600.3 121.7L598.8 122.1L597.9 123.7L596.4 123.2L593.1 124.6ZM588.6 103.8L592.1 104.4L593.3 106.6L593.9 107.6L591.2 109.1L591.4 111.6L591.7 113L590.3 116.1L588.4 116.2L584.4 117.5L579.5 118.9L577.9 116.4L580.3 114.7L579.7 114.6L582.8 112.2L579.1 111.4L579.5 109.2L580.3 107.9L584.5 107.9L585.5 106.8L585.8 104.7ZM643.2 102.6L645.3 101.7L647.7 101.3L647.7 103L646.5 104.5L646 106.4L643.9 106.6L643.6 104.5ZM639.4 103.4L642.1 103.2L642.4 104.9L640.6 105.1ZM663.9 97.7L665.2 94.3L666.6 94.3L665.6 96.6ZM658.8 100.7L660.1 96.6L660.7 96.6L659.4 100.4ZM674.2 92.9L674.6 92.1L678.2 91.5L677.5 92.7L675.3 94.2ZM674.7 90.6L676.4 89.9L677.3 91L675.9 91.4ZM648.1 172.9L650.9 171.3L654.9 171.9L658.5 171L656.9 174.5L657 177.4L654.6 176.9L651.6 174.9L648.8 173.9ZM634.1 160.3L637.4 159.1L639.2 162.1L638.7 166.9L636.9 168.1L634.7 168.1L634.8 162.9ZM635.5 154.5L638.1 152.1L638.5 155.3L637.4 158.5L636.1 157.9ZM685.3 181.9L687.5 181.9L691.2 182.7L694.6 183.1L694 184.1L689.6 184.3L685.5 183.1ZM714.7 183.9L717 182.7L722.1 181.3L720.3 184.1L717.2 185.7ZM614.9 165.7L617.4 164.5L618.5 165.3L617.1 166.9L615.7 166.5ZM699 179.5L700.6 178.3L700.4 180.1ZM692.1 167.3L693.9 166.7L694.3 167.9L692.7 168.1ZM591.6 78.5L594.2 78.1L593.3 80.7ZM607.1 86.5L608.1 84L609.3 84L608.2 86.9ZM588.9 97.7L590.8 94L593.3 92.5L592.5 94.3ZM1059.1 142.1L1070.3 148L1072.9 146.8L1073.8 149.3L1076.9 150.6L1073.3 152.2L1072.2 156.4L1065.2 153.6L1064 154.8L1061.3 154.1L1064.4 157L1063.5 158.5L1062.2 156.6L1059.4 153.7L1059.4 150.7L1062.9 151.1L1062.1 148.4L1058.6 142.6ZM1065.5 158L1067.6 158.5L1069.7 161.9L1073.2 165.5L1073.6 168.5L1072.9 171.1L1075.4 176.3L1077.3 181.2L1075.4 184.5L1074 181.7L1074.3 183.5L1072.9 182.9L1072.6 185.7L1070.9 183.7L1070.5 185.7L1068.6 185.5L1066.5 185.8L1065.1 183.9L1066.5 186.9L1064.6 187.9L1064.2 190.4L1060.7 187.3L1060.9 185.5L1056.2 185.9L1051.5 186.7L1049 188.3L1047 188.3L1046.3 186.7L1047.9 186.5L1049.3 184.5L1050.4 182.4L1052.2 181.9L1055.5 182L1058.4 181.1L1060.5 182.1L1061.4 181.5L1060.5 180.2L1061.5 177.7L1060.5 174.9L1062.3 174.1L1062 175.9L1063.2 177.1L1066 175.5L1067.1 172.4L1067.5 170.1L1067.7 168.4L1065.1 164.3L1065.5 163.3L1064.3 161.7L1064.3 159.1L1066.6 160.7ZM1047.2 188.5L1050.3 189.6L1050.6 191.2L1052 192.4L1051.7 193.9L1051.9 196.6L1052.3 198.7L1051.3 198.3L1050.5 200.2L1048.9 199.1L1047.9 197.2L1046.3 194.8L1045.2 193.2L1044.2 191.8L1043.3 190.8L1044.5 190.3L1045.8 189.8ZM1051.6 190.8L1053.2 188.7L1053.8 187.9L1056.9 186.7L1059 187.3L1060.1 188.8L1059.1 191.2L1056.6 190.2L1056 193.3L1054.6 192.6L1053.5 191.4ZM1074.8 148.9L1075.9 146.5L1074.7 146.1L1074 148.1ZM1077.8 146.5L1081 142.2L1080.2 142L1077.1 145ZM1082.9 141.8L1084.8 139.4L1083.9 139L1082.1 141ZM1088.1 124.5L1088.9 121.8L1087.2 121.2L1086.5 123.4ZM1081.4 92.1L1080.6 89.5L1083.4 90.2L1082.8 92.1ZM1101.1 104.1L1104 105.3L1104.9 106.4L1102.6 105.3ZM1025.7 223.2L1027.1 224.4L1027.4 226.4L1026.9 228.4L1026.3 233.4L1025.8 236.9L1023.3 234L1022.5 232.4L1022 229.2L1022.9 227.4L1023.8 225.2L1024.4 224ZM990.4 244.3L992.6 244.7L991.7 249.3L988.5 251.7L985.6 250.5L985 248.1L986.4 245.5L988.2 244.7ZM888.7 285.4L892.4 290.5L894.2 293.9L894.8 297.3L892.4 300.4L890.6 301.2L889.2 300.7L887.8 297.1L887.2 292.8L887.6 288.9L887.8 285.8ZM1031.9 191L1034.1 190L1034.5 191L1032.6 191.4ZM792.9 274.5L795.3 273.9L797.1 274.5L794.7 275.5ZM931.7 270.7L933 271.5L933 276.7L931.9 278.3L931.5 274.7ZM936.8 296L937.8 296.8L937.4 297.8L936.7 296.8ZM717 204.4L715.8 199.2L714 198.2L711.3 197.8L709.3 198.2L707.7 199.4L704.5 200.8L698.6 198.8L691.4 198L687.4 195.8L684.3 193.6L679.5 192.4L676.9 193.4L674.1 195.8L673.9 200.2L671.4 203.2L667.2 201.4L662.4 199.4L658.3 197.4L657.3 194.6L654.5 193.6L650.8 192.6L647.1 192.4L645.1 191.6L643.7 190.2L640.3 188.5L642.5 185.1L643.7 183.1L642.2 180.8L642 178.5L643.5 175.8L641 176.7L639.6 174.9L635.8 176.3L632.6 176.5L629.7 176.5L625.9 176.8L623.6 177.1L619.7 176.4L616.9 177L611 178.1L606.9 180.4L604.4 181.3L601.8 182.9L599.1 183.7L596.6 182.9L593.4 183.1L590.8 183.3L588.8 181.7L588.9 180.5L586.8 181L585.9 183.3L584.2 187.1L583.3 188L580.7 189.8L577.6 191.2L574.8 195L572.9 198.2L572.3 201.7L573.2 202.6L571 206.7L566.8 210.3L561.3 212.5L559.5 215.9L555.5 219.8L553.9 224.4L550 229.6L549 232.4L546.8 235.6L545.7 241.3L547.6 241.7L548.5 243.7L547.4 246.9L548.9 252.1L546.9 260.6L543.2 265.8L545.5 268.6L545.7 269.5L546.2 270.9L545.6 274.7L547.4 276.7L549.6 277.3L551.6 281.1L553 282.7L556.1 286.8L557.6 290.8L558.8 294.8L563.7 297.2L566.2 299.6L568.8 301.3L572.4 304.9L577.1 307.4L580.9 305.9L582.9 305.1L590.3 303.9L593.5 304.5L597 305.9L598.3 305.3L600.1 304.5L603.8 302.7L606.8 301.7L608.8 300.3L613.1 299.4L616.6 299.2L620.5 299.6L622.3 301.7L623.7 304.1L624.4 306.5L626.1 307.7L629.3 307.3L634 306.5L634.7 305.9L636.1 307.7L637.2 308.9L638.4 309.7L639.6 313.1L639.2 317.5L638.6 320.8L638 323.4L635.4 327.5L637.5 332.6L638.9 335.1L642.3 338.8L646.6 344.3L647.8 347.3L648.2 349.4L650.1 354.4L651.4 360.5L652 362.4L653.3 368.2L652.5 374.7L652 375.6L648.8 378.9L648.1 383.4L647.6 386.2L646.5 388.6L646.1 391.8L646.1 394.4L647 397.5L649.8 401.5L651.9 407.5L653.8 412.7L655.7 416.3L655.6 421.6L656.8 426.8L657.7 432.3L659.6 436.1L662.1 440.2L663.5 442.7L664.9 447.8L667.1 453L668.1 454.2L667 456.8L666.7 457.8L668.3 461.5L668.5 463.3L669.6 462.3L669.7 463.4L671.1 463.5L673.5 465.2L676.6 463.5L680.9 462.6L683.9 462.2L685 462.1L689.9 462.7L692.5 461.7L694.9 460.8L697 460.2L700.5 457.9L703.7 455L706.4 452.3L708.7 450L711.8 445.2L715.7 440.9L716.9 439.2L718.8 433.2L718 429.5L718.8 427.2L721.8 425.8L724.8 424.4L728.4 422L728.4 421.1L728.8 417.2L728 413.6L727.5 410.3L727.2 409.3L726.8 404.8L729.5 402.3L732 400.9L734.6 397.2L738.6 394L742.5 392.2L745.1 390.3L748.2 385.5L748.1 383.6L747.8 377.2L748.2 371.3L748.2 368L746.9 366.3L745.2 365.3L744.6 360.9L744 356.8L743.9 352.5L742.5 350.9L742.9 346.9L743.3 345.4L745.4 341.3L746 339.6L747 338L747.3 335.5L749.8 334.1L752 331.8L755.7 326.5L759.1 322.6L761 320.6L763.6 318.1L765.6 316.8L769 313.7L772.5 308.9L776.8 303.5L778.7 299.6L781.1 292.9L782.4 290.4L783.8 286.8L786.5 283L785.3 279.9L785.9 277.4L784 276.8L778.5 279.6L774.4 280.1L770.8 280.3L763.8 283L760.3 282.7L758.3 279.3L757.2 278.3L755.2 278.5L757.6 276.8L756.8 273.9L755.6 272.7L753.9 270.3L751.7 268.6L749 265.9L746 264.6L744.9 263.8L743.6 262.2L741.9 258.6L740.3 254.2L740.2 252.5L737.7 250.7L735.7 248.1L735.1 246.1L734.9 241.3L733.6 236.4L729.3 232.4L729.5 228.8L728.3 228.6L726.1 224.1L723.8 219.9L722.5 217.3L722 215.3L720.9 213.1L719.2 210.9L717.5 207.9L716.4 205.9ZM778.7 373.1L780.7 378.5L781.5 382.4L781.8 385L782.4 386.5L781.3 389.3L779.8 387.1L779.8 390.1L778.2 395L778 398.1L776.4 402.3L775.5 405.1L773.6 410.5L772.3 414.2L771.5 416.9L770.1 420.8L768 425.7L764.5 426.8L761.4 428L758.6 426L756.8 422.8L756.9 419L755.8 414.4L756.2 412.5L758.2 408.7L759.7 406.6L760.3 401.5L759.2 397.7L759.1 395L761.1 390.1L764.1 389.8L767.7 388.3L770.6 386.2L772.9 383.9L773.6 380.9L775.1 378.9L776.9 376.5L777.4 374.5ZM547.7 210.9L550.2 210.1L549.4 212.1ZM551.4 212.3L552.8 211.7L552.7 213.1ZM556.6 211.9L558.3 209.5L559.6 207.5L559.7 208.7L558 211.5ZM521.4 263.4L522.3 264.6L521.7 265ZM797.8 409.5L799.7 409.5L799.2 410.9L797.8 410.7ZM805.3 406.7L806.6 405.5L806.8 406.9L805.6 407.5ZM757.5 370.9L758.4 371.7L758 372.9ZM743.6 348.1L744.2 349.6L744.8 350.8L744.5 348.7ZM634.5 310.1L636.1 309.9L635.4 311.9ZM627.6 323.4L628.4 323.8L627.7 324.8ZM1108.8 368.1L1109.7 371.3L1110.6 375.3L1110.8 380.5L1114 382L1111.6 383.4L1115.8 387.3L1116.6 393.1L1117.3 395.4L1116.3 398.5L1118.4 402.5L1120.8 402.7L1122.8 405.5L1125.2 410.1L1125.9 414.8L1128.8 418.1L1129.9 421L1132.9 424.7L1135.4 425.6L1133.5 431.2L1133.4 435.3L1132.5 437.7L1132.3 440.3L1129.9 443.7L1128.1 447L1125.5 451.5L1122.8 454.6L1119.1 457.5L1115.8 461.3L1113.4 463.6L1111.7 466.3L1108.6 468.7L1106.5 471.9L1104.9 474.2L1104.2 475.9L1098.7 477.1L1096.8 477.4L1092.4 479.5L1088.9 482.5L1087.6 480.5L1086.5 479.5L1086.6 477.3L1084.9 479L1080 481.3L1077.5 479.5L1074.7 479.3L1072 478.1L1071 474.7L1072.3 469.9L1071.1 468.1L1068.3 468.3L1070.9 465.5L1070.9 462.6L1069.6 463.9L1068 466.3L1064.7 466.9L1068.2 463.9L1069.6 461.6L1072.1 458.6L1072.4 455.8L1070.9 458L1067.7 460.6L1063.7 463.4L1062.4 464.8L1062.4 465.8L1060.5 464.3L1060.8 460.4L1059.9 457L1059.1 454.3L1055.1 453.7L1051.5 451.8L1047.4 452.2L1043.4 452.7L1038.2 454.2L1032.9 455L1026.8 457.8L1023.8 460.3L1020.9 461.9L1016.8 461.3L1010.6 461.7L1007.6 463.5L1001.6 466L997.6 465.9L995.5 465.3L993.3 463.3L994 460L996.4 459.1L997.7 455.9L998.6 453.6L998.3 449.9L998.2 447L999 442.7L998.4 440.8L998 436.5L997.2 432.3L995.9 430.3L997.4 429.4L999.4 430.9L998.7 425.1L998.3 422.4L1000.4 418.2L1002.7 412.7L1002.6 415.6L1006 412.1L1009.5 409.5L1012.2 408.1L1015 408.3L1019.1 406.7L1023.5 405.5L1027.9 403.9L1030.9 400.3L1033.3 397.2L1036.7 391L1038.6 394.6L1039.1 390.6L1041.9 390.6L1044.3 386.6L1045.7 383.8L1048.9 381.4L1052.4 380.3L1054.9 383.4L1056 384.8L1058.9 385L1061.1 382.4L1062.5 379.3L1064.2 376.9L1066.7 375.1L1069.1 374.1L1070.8 374.5L1073.1 373.7L1070.6 370.5L1074.4 370.9L1076.4 372.5L1078.7 373.5L1082.2 374.1L1084.8 373.3L1086.9 372.9L1088.4 374.7L1086.6 378.1L1084.4 378.9L1083.6 382.2L1081.5 385L1083.1 387.8L1085.8 389L1088.6 391L1091.1 392.6L1094.5 395.6L1098.8 395.4L1101.8 389.8L1102.9 387.4L1103.5 383.4L1104.1 379.3L1105.5 375.9L1106 372.9L1107.1 369.3ZM1079.8 488.7L1081.6 489L1084.1 490.6L1086.6 489.9L1090.3 488.9L1090.8 489.9L1088.7 493.4L1087.9 494.7L1085.7 496.7L1084.4 498.7L1083.2 497.5L1079.5 500.4L1077.1 500.2L1077.1 497.5L1077.9 494.7L1078.3 492.3L1078.9 489.9ZM1062.9 468.9L1066.6 468.3L1067.9 469.3L1065.5 470.1L1062.9 469.9ZM1065.6 370.5L1068.8 370.1L1069.4 371.7L1067.2 372.7L1065.1 372.1ZM1085.6 380.5L1087.4 380.5L1086.7 382.6L1085.4 382.2ZM1186.5 463.5L1187.8 463.5L1188 465.9L1189.9 466.7L1189.4 469.3L1189.4 471.1L1188.3 473.3L1189.2 474.7L1190.8 471.8L1191.6 473.5L1190.8 476.5L1192.7 477.7L1193.5 477.9L1197 476.1L1198.4 476.7L1194.1 480.7L1192.4 482.7L1191.1 482.2L1188.3 483.9L1188.5 484.5L1185.9 487.1L1182.1 489.5L1177 492.3L1175.9 491.3L1178.3 489.3L1180.5 487.1L1180.8 485.7L1179.5 484.3L1178.5 483.1L1180.1 482.1L1182.8 480.7L1185.1 478.2L1185.9 477.1L1186.4 475.5L1186.8 474.1L1187.2 471.5L1186.3 468L1186.3 466.6ZM1171.7 487.9L1172.7 488L1171.3 489.1L1172 489.1L1171.4 491L1174.5 489.3L1175.6 489.9L1173.4 492.8L1169.5 495.6L1166.8 497.5L1163.8 499.1L1163.1 500.1L1163.4 501.1L1161 501.3L1155.7 503.5L1152.7 506.2L1149.6 509.2L1146.1 510.6L1144.7 511.6L1141.5 512.4L1139.7 512.2L1138.6 511L1135.5 510.4L1135.8 509.4L1139.2 506.6L1144 504.3L1145.9 503.1L1148.5 501.9L1150.1 501.3L1154 499.5L1159.8 496.7L1161.3 495.7L1164.2 492.9L1167.7 490.9L1169 489.1ZM1136.1 513.3L1138.4 513.1L1136.6 514.7L1135.1 514.5ZM1177.7 405.9L1181.5 409.1L1184.8 412.7L1186 415L1184 414.8L1180.8 412.3L1177.8 408.7ZM1191.5 384.2L1193.3 385.4L1192.9 387.8L1191.2 387.4ZM1192.6 389.4L1194.4 390.6L1193.2 391.6ZM1194.7 395.8L1195.9 396L1195 396.8ZM1226.7 395.4L1230 394.8L1231.2 397L1228.1 398.5L1226.2 397.5ZM1232.4 391.8L1237 390.2L1236.3 391.8L1233.2 393ZM1153.6 347.1L1156.4 349.2L1157.7 352.4L1155.5 351.6L1153.9 348.7ZM1159.7 352L1163.1 354.4L1161.3 354.4ZM1166.5 355.6L1170.8 358.8L1168.7 358.4ZM1169.8 362.4L1173.8 364.4L1172.4 364.6L1170 363.6ZM1173.7 358.8L1175.8 362.4L1175.3 363.6L1173.8 360.8ZM1175.3 366.5L1178.7 368.1L1177.3 368.3ZM1130.9 347.5L1135.2 347.1L1138.7 347.1L1142.4 344.9L1144.4 341.9L1145.8 342.3L1144.5 346.3L1140.4 349.2L1136.8 350.2L1133.3 349.8ZM1140 335.5L1143.8 337.5L1147.6 341.1L1148.2 343.9L1146.5 341.9L1143.1 338.3ZM1125.5 333.1L1128.4 333.1L1127.6 333.9ZM1071.1 328.5L1075.5 326.4L1081.1 328.5L1081.5 331L1081.1 334.3L1082.7 337.9L1085.9 338.6L1088.9 334.3L1092.1 332L1095 330.8L1097.6 332.4L1104.5 335.2L1106.6 335.8L1110.3 337.6L1114.7 339.3L1118 340.5L1119.5 342.3L1122.1 345.9L1125.2 348.1L1128.3 349.2L1129 351.6L1126 352.1L1126.3 354.8L1127.8 356.2L1129.7 359.4L1130.6 360.8L1133.4 361.2L1132.9 363.2L1135.4 365.7L1138.5 366.2L1136.8 366.7L1135.2 367.9L1131.8 366.5L1128.3 365.9L1125.6 363.2L1123.7 360.5L1122 357.6L1118.6 356.4L1116.2 355.6L1114.3 357.2L1113 359.2L1111.8 361.5L1108.2 362L1104 361.7L1102.1 359.2L1097.2 357.6L1092.3 358.8L1095.3 354.4L1096.5 353.2L1096.4 349.2L1094.8 347.3L1090.9 344.7L1087.1 343.1L1084 341.9L1079.4 339.7L1076.9 341.5L1076.1 339.5L1074.6 336.8L1076.4 335.9L1079.2 335.1L1080.3 334.3L1077.2 333.9L1073.6 333.5L1071.2 331L1070 330.4ZM994.2 316.6L996.9 318L999 319.2L1000 313.8L1002.8 313.3L1006.1 312.1L1009.3 307.3L1012.8 304.9L1016.4 300.9L1018.6 296.7L1020.7 298.4L1023.7 301.5L1027.9 304.1L1024.7 304.8L1025.7 307L1023.2 307.9L1022.3 311.7L1023.9 316.9L1027.4 321.1L1023.9 321.4L1022.2 324.6L1022.4 327.4L1019.8 330.1L1018.5 332.2L1017.8 335.5L1017.3 339.1L1011.7 341.8L1011.3 339.1L1007.7 338.7L1006 337.5L1004.3 338.7L1001.7 339.1L1000.3 336.9L996.2 337.1L995.3 332.4L995.3 330L993 327.8L992.4 325L991.8 321.4L992.1 318.8ZM942.6 302.7L945.3 303.7L949.4 304.1L952.5 306.9L955.1 309.7L959.3 312.9L961.3 314.9L962.7 316.3L965.1 318.2L967.4 319.2L970.3 321.4L972.1 323L973.3 325L972.4 327.4L972.2 328.3L975.5 329.1L975.9 332.6L977.3 334.5L979.8 334.7L981.3 337.1L980.4 341.9L980.5 345.1L979.8 348.6L978.3 346.9L975.8 347.1L975.6 348.9L973.5 345.8L969.9 343L967.7 340.3L965.5 337.9L963.7 335.4L962.7 333.1L961.2 328.8L959.1 325L956.8 322.8L955.6 318L952 315.8L949.8 311.9L945.9 308.4L943.9 306.4ZM980.7 348.7L983.5 349.6L984.3 348.8L988.8 350.2L989.7 352L993.5 352.7L996.2 353L998 350.8L999.5 352L1002 352.7L1004.3 352.8L1008.5 352.8L1009.2 353.2L1007 354.2L1004.4 354.4L1005.9 356.2L1008.7 356L1010.3 356.2L1010.6 360.2L1006.6 358.7L1003.9 358.8L1000.4 358.6L998.3 358L995.5 357.2L991 356.1L989.7 356L986.4 355.9L982.2 354.8L981.9 353.2L977.7 352.4L980 350.6ZM1048.3 319L1049.5 318.4L1049.5 319.2L1047.1 323.4L1041.9 323L1036.4 323.2L1032.2 323L1031.3 325L1031.7 328.2L1033.7 330.6L1036.7 328.5L1041 328.8L1043.3 329L1041 331.4L1038.1 332.8L1035.8 333.1L1037.9 335.3L1039.7 338.7L1040 341L1041 342.7L1040.6 343.9L1042 344.3L1041.9 346.7L1039.7 347.5L1038.7 345.1L1037.3 344.5L1036.4 341.3L1034.4 338.3L1034.8 335.7L1031.6 337.1L1032.2 340.7L1032.1 343.3L1031.4 345.7L1032.1 347.5L1029.4 347.9L1028.4 345.7L1029.4 341.1L1027.1 339.3L1027 335.8L1028.5 332.6L1028.5 329.8L1030.1 327.7L1030.4 324.2L1033.9 320.8L1036.1 320.3L1041.4 321.5L1044.9 321.2L1047.3 320.3ZM1010.2 357.8L1012.9 357.4L1014.6 358.8L1012.7 360.4L1010.7 358.8ZM1015 360.2L1015.8 358.6L1018.1 358.4L1017.6 360.8L1015.5 360.8ZM1018.3 358.8L1021.3 358.8L1023.1 357.8L1026.6 358.4L1026.2 360L1022.6 360.6L1018.5 361.4ZM1029.3 359L1033.4 358.6L1036.9 359L1040.5 358.2L1039.7 359.6L1035 360.8L1030.4 360.6ZM1025.9 363L1029.2 362.6L1032.3 365.3L1029.9 366.5L1026.6 364.2ZM1041.6 366.7L1043.7 362.6L1047.4 359.8L1052.8 359L1055.7 358.8L1053.4 361L1048.6 363.2L1044.8 365.9ZM1057.4 321L1059.4 316.1L1061.9 319L1060.2 322.2L1062.7 323.8L1059.5 323.4L1060.9 328.4L1059.2 325L1057.7 321.8ZM1058.9 337.9L1062.9 336.3L1066.4 336.9L1069.4 338.7L1066.3 339.5L1062.4 338.5L1059.6 338.9ZM1052.2 337.9L1054.7 337.3L1056.6 338.7L1055.3 340.5L1052.5 339.5ZM978.4 332.8L980.5 331.2L983.6 335.3L982.9 337.5L980.8 335.9ZM986.6 336.1L989 335.9L988.9 337.9L987 337.7ZM949.6 319.4L951 319.2L952.5 322.4L951.4 322.8ZM955 329L956.4 330.2L957.4 332L956 331.8ZM1080.7 347.9L1082.6 347.9L1082.7 352.4L1080.5 352.8ZM1069.7 355.2L1071.6 354L1071.4 357.2L1069.2 357.2ZM1086.2 328L1089 329L1088.1 329.8ZM1086.1 331.4L1090.7 332L1088.9 332.6ZM1067.7 325.6L1071.3 325.2L1070.2 326.6ZM1065.5 332L1068.3 332.2L1067.6 333.3ZM1046.6 331.8L1049.8 332.2L1053 332.2L1051.9 332.8L1047.3 333.1ZM1041 330L1043.5 329.8L1043.1 331.2ZM1054.5 308.9L1055.2 307.3L1054.9 309.5ZM1027.2 250.5L1031 251.1L1032.7 250.5L1033.9 255.4L1034.7 256.6L1033.6 259.8L1032.3 261.5L1031.9 263L1033.1 265.6L1035.4 268.2L1038.1 268.1L1039.4 268.9L1041.8 269.7L1041.3 271.5L1042.8 274.5L1042 274L1039.8 272.7L1037.7 269.9L1037.3 272.1L1033.4 269.1L1031.5 269.7L1029.9 268.4L1030.8 266.4L1029.2 266.8L1028.2 265.4L1026.6 262.6L1026 259L1027.6 259.8L1027.3 258.1L1027.1 254.3L1027.2 251.7ZM1048.8 285.6L1051.6 288.8L1052.4 292L1053.5 295.6L1052.3 299.8L1051.4 297L1050 296.6L1049.5 299.6L1049.6 302.6L1048.7 300.4L1045.6 300.4L1044.6 298.6L1045 296L1042.1 295.2L1042.2 293.6L1040 295.6L1037.5 297.2L1037.1 294L1039.1 292L1041.6 290.4L1043.2 290.9L1044.8 291.9L1046.2 290.8L1047.3 289L1049.2 288.8ZM1043.5 274.5L1046.7 274.5L1049.3 280.3L1046.9 279.9L1046 277.5ZM1044 278.7L1046.3 279.3L1047.3 284.3L1046.1 284.3L1044.7 281.1ZM1035.4 277.3L1039 278.5L1039.9 280.3L1038.4 282.9L1036.1 282.9ZM1037.8 284.7L1040.7 280.9L1041.6 281.7L1040.9 288.4L1038.7 287.2ZM1041.3 286.8L1043 281.5L1043.2 279.7L1041.9 283.5ZM1042.8 285.4L1044.9 284.3L1045.5 285.8L1043.6 286.4ZM1029.4 270.9L1032.2 270.9L1033.6 273.9L1032.7 275.9L1031.1 273.9ZM1019.9 291.4L1022.5 288L1025.6 283.1L1027.4 279.3L1026.6 282.3L1024.5 287.2L1021.3 291ZM1039.7 274.7L1042.7 276.7L1041.3 277.1ZM1046 219.9L1047.3 216.9L1046.9 218.7ZM266.2 620L268.6 618.8L269.4 616.6L281 615.1L290.4 613.5L306.4 611.3L323.9 611.6L338.9 611.9L351.9 614.4L367.1 615.1L369.9 610.3L370.7 605.4L380.9 608L393.6 608.4L407.1 609.7L419.1 609.3L427.8 608L436.5 609.7L444.8 607.7L444.3 603.8L438.2 598.8L437.1 594.7L437 590.3L438.6 585.8L440.5 582.2L444.1 579L449.3 576.2L455.8 575.5L456.3 579L449.6 581.5L447.6 585.1L443 588.5L443.6 592.7L452.4 597.1L458.7 602.1L464.1 607.1L468.1 611.9L467.7 615.1L460.8 618.2L449.7 621.3L439 624.2L439.5 628.5L451.6 631.3L467.7 633.9L483 636.1L495.9 636.3L507.1 634.6L515.8 632.1L526.7 632.1L534 629.9L536.7 627.1L537.2 624.2L540.5 621.9L550.7 618.8L558.6 615.1L569.1 610.3L578.3 608L587.2 603.1L594.4 601.5L604.4 599.8L614.3 597.1L624.7 598.8L634.9 598.5L645.1 598.1L655.4 597.8L665.6 598.8L675.7 599.5L686.2 597.5L696.7 596.1L702.3 594.1L711.9 597.5L717.6 595.4L729 591.7L740.2 589.2L752.4 584.7L762.9 585.1L769.5 588.5L776.9 589.9L787.1 590.6L794.8 591L796.8 594.7L801.3 598.1L810.2 596.1L817.2 593L829.9 589.2L842 586.8L847.3 586.8L858.2 586.5L868.6 586.8L881.1 584.4L891.8 584.4L900.5 586.8L913.2 584.4L921.5 587.2L931.8 587.5L943.7 586.1L953 587.5L965.4 585.8L976.8 585.1L985.2 587.2L994.3 588.5L997.2 590.6L1004.4 593.4L1013.1 594.7L1021.3 596.4L1027 599.8L1035.7 600.8L1042.7 603.5L1025 608L1009.4 613.1L1003 623L1000 633.4L981.3 650L300 650L275 641.7L298 636.5L281 633L265.6 627L251.6 624.5ZM425.4 602.1L428 595.4L435 596.1L441.8 602.1L441.3 606.4L433.6 606.1ZM360.8 605.4L370 604.8L376.4 606.1L370.3 607.4ZM442.3 573.3L446.8 571.5L451.3 570.4L449.8 571.9L445.2 573.7ZM481.3 565.7L485.3 565.7L484.2 566.4ZM822.4 521.6L826.2 520.4L827.9 522.7L825.2 524.3L822.3 523.9ZM500.7 627.1L513.4 626L520.3 629.4L513.2 631.5Z" fill="#c0c0c0" stroke="none" fill-rule="nonzero"/>
<path d="M1036 107.6L1039.7 111L1043.8 114.8L1046.6 118.7L1051.4 123.4L1052.9 127.6L1058.8 128.8L1055.4 132.3L1057.9 135.1L1060.7 137.1L1062.5 140.1L1059 137.8L1058.6 140.6L1055.9 137.6L1055.5 136.1L1052.9 132.3L1050 128.2L1045.2 121L1041.7 117.9L1040.3 116L1037.4 112.2L1037.6 111Z" fill="#c0c0c0" fill-opacity="0.45"/>
<path d="M252.6 52.4L212.5 85.4L217 86.2L217 90.4L221.9 88.6L226.1 87.3L225.7 89.3L226.7 92.5L225.3 97.7L227.9 101.5L224.8 104.5L222.9 106.2M225.8 128.4L313.3 128.4L314.1 126.9L314.3 129.6L319.1 130.0L323 132.1L328.8 132.3M341.9 138.2L341.2 138.4M341.7 152.3L341.1 153.7L338.5 155.3M352.7 152.5L353.3 151.1M363.7 147.3L369.1 144.4L380.3 144.2L383.1 142.6L385.5 140.6L387.7 137.5L391.4 134.5L394.1 134.9L395.2 136.0L393.4 140.6L393.7 143.4M209.8 194.1L218.3 193.3L217.6 194.2L228.6 198.9L238.3 198.9L238.9 197.1L244.7 197.1L248.3 201.6L248.7 205.7L252.4 208.4L255 205.5L259.5 205.2L260.9 208.7L261.6 211.1L263.5 214.3L263.8 218.7L266.6 220.1L270.1 220.6M279.9 266.4L280.4 263.4L282.4 260.3L287 260.3L285.5 257.0L285.7 255.6L286.1 253.3L292.5 253.3L295.8 250.5M292.5 253.3L291.3 261.0L292.3 261.0M294.7 261.8L290.8 265.0L290 267.0L287.1 269.7M290 267.0L292.8 268.6L295 271.1M296.6 272.7L299.1 269.7L302.3 269.3L306.2 265.4L312.1 264.6M301.6 280.3L305.2 280.5L308.6 281.0M310.7 292.6L311 288.6L312.2 286.4M330.5 290.1L330.9 293.2L328.3 295.9M350.4 278.3L348.7 280.3L346.1 287.6L347.7 291.2L349.2 296.8L355.9 296.8L358.1 300.4L365.2 300.0L363.8 303.7L363.5 306.9L365.4 311.3L363.4 313.7L365.6 315.7L366.7 320.1M366.7 320.1L365.9 318.2L356.2 318.2L356.1 320.7L358.4 321.0L357.5 322.2L355.4 322.8L355.4 325.8L357.7 329.0L356 342.0M356 342.0L354.8 340.5L353.3 340.3L349.3 333.9L345.4 334.9L342.8 330.2L340.3 328.8L336.7 325.4L335.6 324.8M335.6 324.8L333.2 323.4L329.3 323.4L328.2 321.6L324.3 319.4M335.6 324.8L336.9 328.8L332.1 335.5L327.8 337.1L326.1 338.7L325 343.5L324 345.1L321.6 342.9L318.8 342.9L319 338.7M356 342.0L352.5 342.7L345.9 345.7L345 351.2L343.1 352.8L342.2 355.4L346.2 361.2L349.1 365.3L354.6 363.0L355 369.3L358.6 369.1M358.6 369.1L362.3 375.3L361.4 379.9L362.2 382.2L360.6 384.6L361.5 386.4L360.8 388.0L362.6 390.2L360.6 394.6L361.2 395.4L358.7 398.9M358.6 369.1L361.4 369.3L368.7 364.8L373.5 364.4L373.6 372.1L377.3 375.1L383.1 377.3L386.8 379.3L391.5 380.5L392.8 385.8L393.3 390.4L399.7 390.6L400.2 394.4L402.3 395.6L403.4 398.3L401.9 404.5M361.2 395.4L362.8 397.5L363.8 401.5L365.8 403.1L365.2 407.1L367.6 411.7L369.5 417.0L372.5 417.6M372.5 417.6L371.8 421.6L368.1 424.8L370.3 433.3L366.8 439.3L366.3 442.9L367.6 446.6L366.1 450.6L369.6 458.6L371.7 462.9L370.3 467.1L371.8 470.5L369.8 472.7L373.2 480.1L371.7 484.3L375.1 494.3L375.8 499.1L378.7 501.7L378.8 504.8L381.4 507.0L382.5 512.5L381.5 515.5L383.2 519.0L381.4 523.7L384.9 528.4L387.2 528.0L388.9 532.1L390.9 533.2L396.9 533.2L402.1 534.6M402.2 535.7L406.5 544.3M372.5 417.6L374.7 412.7L378.3 414.0L381.8 417.0L382.6 413.6L386.6 413.6L387.3 414.6M401.9 404.5L398.4 402.9L389.3 404.1L387.3 414.6L393.8 420.8L399.8 423.6L405.5 426.2L406.5 428.0L404 434.9L411.7 435.9L413.9 435.3L416.8 428.0M401.9 404.5L403.4 408.5L403.6 414.0L411 414.8L413.2 421.4L417.3 421.8L416.8 428.0M416.8 428.0L419.4 428.2L420.4 434.3L414.5 439.1L409.4 446.6M409.4 446.6L415.3 449.0L420.6 451.8L426.6 456.8L426.5 460.8M409.4 446.6L409.2 455.8L409.7 461.5M366.7 320.1L371.2 321.2L373 320.4L376.6 318.4L379.1 316.3L376.8 314.9L376.4 308.5L381.6 310.1L381.2 308.9L384.8 308.3L388.8 304.1M388.8 304.1L386.6 301.1L387.6 298.0L390.7 296.4L389.5 295.0L392 290.6M388.8 304.1L391 303.9L391.6 306.9L393 309.1L391.9 310.5L391.4 314.5L392.3 317.6L395.4 320.2L398.3 319.0L400.8 317.2L403.6 317.2M401.7 301.1L401.1 303.7L399.1 306.5L398.3 308.9L401.2 311.5L403.6 317.2L405.8 317.4L405.6 314.9L410.4 315.6M412.8 302.1L411.2 304.9L412.6 310.5L410.4 315.6L416.4 316.1L421 308.7M578.9 156.6L581 155.9L586.2 156.3L587.3 157.9L584.9 159.9L584.2 165.3L582.5 165.7L583.8 171.3L582.2 175.3M602.2 150.7L605.5 152.5L609.8 153.3L612.3 154.3L617.8 154.3M617.2 120.3L619 121.4L622 123.4L623.9 124.7L627 126.3L628.7 126.7L634.4 128.5L632.5 133.9M632.5 133.9L627.8 139.6L629.9 140.2L630.7 140.6L630.5 143.4L629.3 143.8L630.4 147.1L632.6 147.5L632 149.0M619.7 119.2L622.4 119.2L624.7 118.9L627.3 120.1L626.7 121.4L627.7 121.6L628.9 123.2L628 124.1L627 126.3M631.6 112.0L631 115.8L630 117.2L627.8 117.4L628.4 119.1L627.7 121.6M628.7 126.7L628 124.1M632.5 133.9L635.6 133.3L638.7 134.3L638.6 135.9L641.4 136.9L641.3 138.0L637.8 138.4L636.8 140.8L635.1 138.4L630.7 140.6M638.7 134.3L641.4 134.1L646.9 133.9L649.4 134.3L648.6 132.0L652 129.4L654.6 130.0L655.5 128.4L661.7 130.0L662.4 132.3L659.2 136.9L654.4 138.6L651.7 138.2L647.6 137.5L646.8 136.1L641.4 136.9M651.7 138.2L650.8 139.4L651.4 141.0L651.9 141.8M652 129.4L646.5 123.4L653.2 120.4L654.7 121.2L659.7 122.2L661.3 123.7L667.4 126.5L661.7 130.0M652.6 109.5L653.3 112.0L652.5 113.5L654.3 116.4L654.7 121.2M636 105.7L638.4 106.0M667.4 126.5L670.4 127.6L679 128.0L677.9 130.8L672.7 130.4L667.7 133.1L662.4 132.3M679 128.0L679.3 126.1L683.2 121.2L681.7 118.5L681 116.6L682 114.1L680.6 109.3L678.2 107.8L669.2 107.4M678.2 107.8L680.4 109.3L686.9 105.7L689 102.8L693.4 100.9L691.5 97.7L691.6 94.5L690.4 95.7L683.4 94.0L681.6 94.5M689 102.8L687 100.7L684 100.4L675.2 100.0L672.5 101.2M678.2 107.8L677.7 105.5L673.3 104.1M693.4 100.9L701.7 103.0L701.7 106.0L708.3 111.6L704.2 112.5L705.3 116.4L703 119.5L691.8 117.7L681.7 118.5M691.6 94.5L690 91.4L691.8 88.9M705.3 116.4L713.3 116.8L718.8 123.2L726.5 124.9L733.1 126.1L733 132.9L728.7 135.9M677.9 130.8L680.4 132.5L686.7 133.3L691.8 131.4L694.6 130.6L700.1 134.5L703.7 138.6L697.8 142.4L702.4 143.4M691.8 131.4L697 136.5L697.8 142.4M677.9 130.8L677.9 133.7L674.8 139.0L672.4 139.6L668 140.6L660.7 138.2L659.2 136.9M672.4 139.6L676.3 143.4L679.9 145.4L680.7 147.3L685.6 149.1L689.5 149.5L694.6 147.5L699.7 149.2M660.7 138.2L657.9 139.4L656.8 142.4L651.4 142.4M668 140.6L668.7 144.8L669.8 144.6L670.8 147.9L669.6 150.1L667.7 154.3M658.3 143.4L659.2 145.4L664.7 151.9L667.3 154.1M668.7 144.8L658.3 143.4L656.8 142.4M680.7 147.3L679.6 148.9L681.9 151.3L680.1 154.9L682.1 158.7L687.1 157.9L693.1 157.3L692.4 161.1M693.1 157.3L696.4 155.9L698.4 156.2M682.1 158.7L675.7 160.5L672.8 165.3M675.7 160.5L674.2 158.9L674.4 156.1L672.5 153.9L670.5 156.6M674.4 156.1L676.9 155.1L680.1 154.9M672.5 153.9L669.6 150.1M643.1 89.9L645.1 87.1L647.1 86.2L646.2 82.9L648 81.6L646 80.3L646.4 78.3L645.6 74.5L647.4 72.0L651.1 70.4L649.9 69.9L652.1 67.4L652 64.4L654.5 63.9L656.9 60.8L656 59.9L660.7 58.0L661.2 56.1L666 56.6L667.3 54.4M667.3 54.4L669.9 53.6L672.2 55.6L675.7 58.2L675.6 60.8L677.1 62.1L676.4 63.9L677.9 65.6M667.3 54.4L668.4 54.4L680.5 53.4L680.9 52.2L685.7 50.9L689.1 52.2L689 54.4M689 54.4L687.9 56.1L692.5 59.0L690.5 61.6L693.9 66.0L693.5 69.2L696 71.7L694.6 72.9L699.6 76.0L690.3 84.5M689 54.4L693.4 51.9M742.6 158.0L746.6 158.1L749 159.7L753.9 158.9L758.2 156.5L759.6 158.9L765.3 156.7M736.5 150.5L744.7 151.3L752.7 153.1L758.2 156.5M749 159.7L750.2 163.7L754.2 165.3L751.9 166.5L755.6 175.3L754.2 165.3L760.4 168.7L764.7 165.3L768.4 170.3M753.9 158.9L754.1 160.1L758.4 166.9L760.4 168.7M727.4 180.8L728.7 176.9L733.8 176.5L739.5 177.3L747.5 175.7L755.6 175.3L754.4 179.7L758.3 180.9L761.1 183.7L759.1 188.1L762 192.4L768.4 197.2L768.3 200.4L771.6 204.4M747.5 175.7L744.2 186.5L737.2 190.8L730.8 195.0L726.7 193.4L726.4 191.2L729.4 187.3L726.7 180.5M737.2 190.8L738.9 195.6L731.7 198.2L735.4 202.2L733.9 204.2L729.1 207.5L725.3 206.9M726.5 194.6L726.8 198.2L726.4 200.6L725.3 206.3M722.4 199.4L725.1 206.3M738.9 195.6L743.1 196.6L749.2 199.8L758.7 207.5L765.1 207.9L768.2 208.3L768.6 203.8L769.7 204.2M765.1 207.9L769.3 210.1L771.7 210.1M782 226.2L781.4 225.4M784.2 227.6L788 232.6L796.9 233.6L798.9 236.4L797.2 244.5L786.9 248.5L776.9 250.1L773.8 251.9L769.9 256.8L757.1 254.4L756.2 258.0L755.2 259.0M796.9 233.6L799.4 228.0L798.5 224.8L799.2 220.8L800.1 222.0M786.9 248.5L791.3 258.0M560.3 213.6L575.8 213.6L575.6 220.3L564.1 220.3L563.6 230.6L560.1 232.4L559.5 239.1L546.1 239.1M599.1 183.7L600.4 186.5L600.5 191.0L602 195.8L595.9 197.4L593.7 200.6L588.8 204.2L583.6 205.9L576 209.5L575.8 213.6M575.8 215.1L588.7 224.4L582.6 224.4L585.2 258.6L586.1 259.3L585.1 262.6L571.8 262.6L567.2 263.0L564.4 262.2L561.8 265.4L557.4 260.2L554 258.0L548.7 258.6L546.9 260.6M588.7 224.4L609.2 240.1L609.3 241.7L616.2 245.3L616.6 248.5L619.9 247.9L625.3 246.7L631.3 241.1L646.9 230.3L641 226.0L638.3 218.9L639.7 214.3L639.7 211.1L638.5 203.3L636.8 195.8L634.2 194.2L631.6 189.0L634.1 185.5L634.3 181.3L635.3 176.5M638.5 203.3L641 197.4L645.1 194.6L645.1 191.6M691.4 198.0L690.2 203.8L691.3 207.5L692.2 236.4L692.4 244.5L688.9 244.5L688.9 246.5L660.8 230.6L654.6 234.0L652.2 231.8L646.9 230.3M692.2 236.4L733.6 236.4M660.8 230.6L659.2 240.5L660.1 244.9L659.3 257.0L652.7 269.9M688.9 246.5L689.2 261.8L685.4 262.6L683.4 271.5L682.4 273.9L684.2 280.7L685.5 281.0M619.9 247.9L619.6 259.0L617.1 263.0L609.4 263.4L605.5 264.8L602.3 264.2L597.7 267.8L594.2 270.1L589.5 272.3L586.3 277.5L585.2 282.9L582.7 282.3L576.4 283.9L575.3 280.7L571.8 275.1L564.4 275.1L562.4 270.7L561.8 265.4M617.4 277.9L619.2 270.7L629.1 272.7L634.7 272.5L640 271.5L648.8 272.3L652.7 269.9M605.5 264.8L606.2 268.6L608.3 271.1L612.5 275.1L613.1 277.1L617.4 277.9L614.3 288.8L614.1 299.4M545.7 270.3L551.9 269.5L556.1 270.7L551.8 271.9L545.8 272.3M545.7 275.3L556.3 274.0L564.4 275.1M556.3 274.0L556.3 277.9L551.6 280.9M557.5 288.6L560.4 285.2L565 284.7L567 288.4L568.2 290.9L563.7 297.1M568.2 290.9L570.9 291.4L571.2 295.2L574.4 294.4L575.1 298.8L577.9 301.3L577.7 307.5M574.4 294.4L576.4 283.9M593.5 304.5L593.2 297.6L595.7 292.0L594.7 287.2L594.6 280.7L604.1 280.3L607.8 280.7L613.1 277.1M585.2 282.9L588.3 286.0L594.7 286.4M604.1 280.3L606.4 286.8L605.3 290.8L606.7 296.8L608.8 300.4M607.8 280.7L610.2 288.8L610.3 299.9M634.7 305.9L637.5 298.8L642.1 296.6L646.4 296.8L647.8 291.2L651.3 286.4L653.4 280.7L656.2 275.9L654.8 273.1L654.5 272.3M654.5 272.7L657.7 276.3L658 281.5L659.5 284.7L654.2 285.2L659.5 294.8L656 300.8L656.3 304.9L661 312.9L661.7 316.1L651.7 316.1L644.8 316.1L639.3 315.7M639.3 321.0L644.8 321.0L644.8 316.1M651.7 316.1L651.4 319.8L655.3 319.8L656 321.8L653.9 324.2L656 327.4L655.6 332.6L654.6 334.9L648.9 334.3L645.7 334.7L646.4 339.5L643.9 340.9M661.7 316.1L663.4 310.9L670.6 310.9L668.8 315.7L668.1 321.0L667.4 327.0L662 333.9L661 340.7L658.8 342.3L655.6 344.5L652.1 344.7L650.6 348.5L647.8 348.1M670.6 310.9L670.5 307.7L673.7 304.5L684 308.5L685.8 305.7L691.1 304.5L694.3 304.9L702 304.7L705.4 307.7L709.2 306.3L714.1 310.9M659.5 294.8L664.8 294.0L670.5 292.4L671.9 288.8L681.4 282.3L685.5 281.0L688.5 290.0L690.3 290.0L693.5 293.6L698.2 298.4L702 304.7M688.5 286.8L698.4 286.8L703.7 287.6L710.8 283.9L719.1 276.7L721.9 275.9L721.4 283.9L725.3 286.8L726 282.3L728 277.1L732.1 273.9L733.2 267.4L734.5 259.4L734.7 256.2L740.2 252.5M733.2 267.4L738.2 265.0L742.1 266.2L746.4 266.6L751.5 270.9L754.4 274.8L756.8 273.9M754.4 274.8L752.2 278.7L752.4 280.7L756.3 280.8L757.5 278.8M756.3 280.8L755.7 282.3L759 287.4L760.4 288.8L771.1 292.8L774.7 292.8L764.3 305.3L757.2 306.5L753.3 309.0L749.4 308.1L744.8 311.1L739.8 310.5L735.5 307.3L732.2 306.3L728.7 303.3L725.1 297.2L721.5 293.6L724.7 291.2L725.3 286.8M753.3 309.0L750.2 313.7L750.2 328.4L752.1 331.7M732.2 306.3L725.2 308.1L721.7 309.5L717.8 310.5L714.1 310.9L713.7 315.3L715.7 316.3L712.7 320.2L710.9 321.8L709.7 327.0L709.7 330.6L707.5 335.9L708.5 342.9M725.2 308.1L727 310.1L728.9 317.4L727.1 320.6L725.3 324.0L725 329.0L738.1 337.1L738.6 339.3L743.7 343.8M709.7 330.6L712.9 329.2L725 329.0M712.9 329.2L714.1 334.3L707.5 335.9M714.1 334.3L712.8 339.1L708.5 342.9M713.5 358.0L721.3 362.8L724.6 363.6M728 371.6L733.6 372.1L740.7 370.7L747.7 367.2M648.2 349.4L650.6 348.7L663.4 348.5L664.5 354.0L666.9 357.6L673.3 357.2L673.2 353.2L681.8 354.4L682 363.2L683.5 370.1L689.5 368.9L694.1 370.1L696.5 372.9L700.8 371.7L701.4 374.5L705 375.3L707.2 378.9L709.8 379.1L709.9 373.9L707.1 374.9L704.8 372.9L706.2 364.4L707 359.2L713.5 358.0M689.5 368.9L689.4 377.3L682.3 377.3L682.2 390.2L687 395.8M646.1 394.4L650.5 393.4L654 395.0L669.5 395.0L678.5 397.2L687 395.8L693.5 396.6M693.5 396.6L686.6 397.5L678.5 398.7L678.3 413.6L674.8 413.6L674.6 424.6L674.3 439.3L670.8 441.5L666 440.7L662.1 440.2M674.6 424.6L676.9 433.1L680.3 433.1L683.9 427.6L691.8 428.6L695 424.6L699 420.2L707.3 414.4L701.8 407.5L696.4 403.5L693.5 396.6L699.6 397.2L706.4 389.2L711.7 388.0M707.3 414.4L714.1 415.2L718.4 410.7L720.3 404.7L720.2 399.5L720.7 393.4L717.3 391.0L711.7 388.0L711.1 384.6L721.1 381.4M714.1 415.2L716.2 423.6L715.8 429.4L712.5 429.7L711.7 432.9L713.3 434.9L716.1 432.9L715.8 429.4M716.1 432.9L718.9 433.1M698.1 444.1L701 441.3L704.1 440.1L706.3 443.3L705.2 446.2L702 448.2L699.3 447.0L698.1 444.1M721.3 362.8L722 368.9L720 379.7L721.1 381.4L726.3 383.4L730.7 389.0L728.8 393.8L725.4 389.4L726.3 383.4M765.3 156.7L763.1 159.3L759 159.9M785.7 174.7L788.9 172.1L796 171.3L801.8 173.7L806.5 177.7L810.3 177.7L811.2 181.7L810.1 186.9L810.4 189.8L812.7 198.2L816.2 200.2L813.7 204.9L817.9 210.1L821.2 211.3L821.7 215.3L823.7 217.7L818.9 219.5L818.4 223.6M813.7 204.9L819.5 206.7L832.3 204.9L831.7 200.2L836.4 198.8L841.1 196.6L841.1 191.8L843.4 190.8L841.5 187.9L845.3 186.7L846.3 182.3L844.2 179.9L848 176.7L854.5 176.0L855.5 175.1M810.3 177.7L814.8 182.9L817.7 182.3L821.7 178.9L827.7 174.7L831.9 175.3L837 175.7L839.4 173.9L841.2 170.3L842.8 171.1L845 177.1L850 174.3L855.5 175.1M855.5 175.1L859.2 177.5L866.8 182.1L871.6 186.9L872.6 193.8L874.2 194.2L873.7 199.0L882.5 203.4L880.1 208.9L887 212.7L895 214.3L901.4 217.9L909.2 218.3L908.4 212.7L910.5 212.1L911.4 215.1L915 217.5L922.6 216.9L920.5 213.1L923.4 212.7L929.7 207.1L934.4 206.5L939.7 211.3M882.5 203.4L885.8 202.8L892.8 207.1L900 210.9L908.4 212.7M911.4 215.1L913.2 211.5L920.5 213.1M866.8 182.1L864.6 185.5L855.7 185.1L855.2 188.1L858.4 193.2L861.3 195.0L859 199.8L858.1 204.4L855.4 208.5L847.4 212.3L844.9 215.5L848.3 221.6L851.7 226.8L843.6 227.2L841.9 229.6M909.2 218.3L911.1 223.6L913.1 223.2L912.8 227.2L912.5 229.8L915 235.8M915 217.5L916.1 223.2L925 224.2L921.5 228.0L923.5 232.6L925.5 229.6L927.8 239.3L927.1 241.7M927.8 239.3L929.4 235.4L929.1 228.4L932.7 222.4L933.6 217.5L939.7 211.3L944.9 213.9L946.3 221.0L943 225.4L943.6 228.6L948.7 231.6L950.3 235.8L954.2 238.7L957.5 238.3M957.5 238.3L954.5 243.1L956.7 246.5L959.1 246.3L959.7 254.8L962.6 251.7L967 250.7L972.1 254.6L972.8 258.8L976.2 261.8L976.5 266.4L975.4 267.4M954.5 243.1L950.8 244.1L947.4 245.3L947.2 250.3L952.3 259.0L950.4 264.2L954.5 269.9L954.9 274.1L956.8 277.5L954 283.3M975.4 267.4L968.4 267.4L965.7 270.5L968.3 278.1M976.5 266.4L983.5 265.8L984.1 274.5L979.2 277.7L978.8 279.5L980.2 281.5L974.2 283.1M983.5 265.8L982.5 260.4L978.9 256.8L973.4 251.5L968.3 247.3L971.6 244.5L970 241.9L964.8 241.1L960.5 234.8L957.5 238.3M960.5 234.8L966.7 234.4L971 231.2L976 233.0L976.5 236.4L981.3 238.3M959.7 299.0L963.4 302.3L965.8 301.9L966.8 299.8M994.2 316.6L993.9 320.2L997.5 321.6L1001.9 321.0L1004.2 319.0L1008.5 320.2L1012.5 317.4L1013.5 314.5L1015.2 308.1L1023.2 308.2M1009.7 306.5L1012.2 307.5L1014.1 305.3M1105.5 335.5L1104.7 352.8L1104.2 352.0L1104.7 352.8L1104 361.7M1043.9 362.6L1045.3 362.0L1047.6 362.0L1047.2 361.0M757.3 146.1L758.4 141.8L760.9 138.2L763.9 138.8M763.4 137.8L760.6 133.1L755.9 131.4L753.8 130.6L755.5 122.8L758.9 122.2L764.2 117.7L772.5 118.7L780.5 122.4L789 120.4L797.6 121.4L795.4 118.3L798.1 119.7L792.2 116.8L792.9 109.3L804.8 107.8L812.9 105.5L823.1 108.7L830.1 109.1L839.5 107.4L844.4 111.8L854.9 121.2L864.9 120.6L872.9 126.1L880.2 128.0M880.2 128.0L876.3 130.8L878.2 136.1L869.7 135.5L869.6 142.0L864.3 144.0L867.9 151.5L867.5 155.3L867.5 155.9M867.5 155.9L863.3 154.9L856.1 152.3L852.2 152.3L846.7 151.3L845.4 154.3L837.1 153.7L836.4 158.1L831.3 161.3L833.1 163.3L830.7 168.1L833 171.3L831.9 175.3M867.5 155.9L862.6 157.9L858.1 160.1L851.8 162.1L849.1 166.3L850.5 169.7L854.3 170.3L855.5 175.1M849.1 166.3L843.2 166.9L838.2 164.1L834.8 166.1L839 165.7L841.2 170.3M836.4 158.1L840.5 157.9L845.9 160.7L842.4 163.5L837.9 162.7L838.2 164.1M777.8 157.1L779.3 155.7L783 154.7L789.5 158.9L793.2 159.1L792.3 156.7L796.9 152.9L801.9 155.3L803.1 158.5L809.1 159.7L811.7 164.1L818.5 168.3L827.7 174.7M789.5 158.9L786.6 144.2L794.2 142.0L803.1 146.5L807.3 150.1L816.4 149.3L820.9 152.1L821.6 156.1L824.6 159.3L828.9 159.5L832.1 158.5L836.4 158.1M880.2 128.0L881.2 127.3L885.9 124.7L892.7 121.2L899.1 122.4L909.9 125.5L911.4 122.4L908.7 118.9L913.9 117.7L921.9 119.5L923.6 122.2L933.1 122.8L943 125.9L952.9 127.8L959 126.1L963.4 123.7L969.6 125.1M880.2 128.0L883 130.0L890.5 132.7L895.6 137.8L897.5 143.4L906.2 144.4L913.3 146.9L918.6 153.1L930.7 153.5L936.8 154.1L948.4 157.5L953.8 155.9L961.6 154.3L967.4 149.3L964.4 146.7L970.8 145.2L976.9 139.0L986.1 137.6L979.6 132.5L970.2 132.5L969.6 125.1M969.6 125.1L974 126.5L976.3 123.2L976.8 116.8L972.7 113.9L981.3 110.8L990.7 113.9L1002.1 123.6L1019 133.5L1029.3 131.0L1032.2 143.8L1028.7 147.9L1030 154.3L1030.7 154.9M1030 154.3L1027.1 154.3L1022.7 156.1L1019.4 156.9L1014.8 164.3M1026.5 172.9L1026.9 170.9L1030.5 169.7M830.1 109.1L830.1 109.1" fill="none" stroke="#e2e2e2" stroke-width="0.9" stroke-linejoin="round"/>
<path d="M763.4 137.8L769.1 136.3L775.2 138.6L777.4 143L771.4 143.4L771 146.1L768.9 146.5L771.4 151.3L774.3 152.9L777.4 154.1L779.2 156.9L783.1 160.1L780.5 162.1L780.8 165.3L783.8 169.3L785.7 174.9L781.4 176.9L776.4 177.3L772.7 174.5L768.8 172.5L768.2 168.5L769 163.3L771.8 162.5L769.2 160.9L766.7 157.7L764.3 154.9L760.9 152.1L760.3 148.9L757.3 146.1L758.2 142.2ZM840.8 139L843.3 137.1L848 137.1L854.6 137.8L858.5 138.2L856.7 139.4L850.1 138.6L845.6 139.4L844.4 142.6L841.9 141.8ZM926 118.7L927.6 117.2L930 114.5L932.8 112.2L934.1 107.9L933.6 103L934.6 102.2L936.4 106.4L937.3 110.6L936.2 113.7L933.2 116.4L931.3 118.3L928.7 119.1ZM697.7 85.1L699.2 82.7L700.9 81.6L703.7 82.9L703.4 84.9L701.2 86L699.5 86.2ZM709.3 81.6L710 79.1L710.7 78.1L712.6 79.8L712.6 81.6L711.2 82.4ZM319.3 137.1L325.7 133.6L330.9 131.8L334.6 129.1L339.1 129.8L342 132.7L341.5 136.2L340 138L336.7 137.6L332.3 137.8L331.1 135.4L327 136.7L322.8 137.6ZM323.4 155.3L326.1 149.9L329.1 145.3L332 142.1L336.9 140.8L337.4 142.8L335.2 144.6L332.3 146.3L329.8 149.9L328.5 154.2L325.4 156.5ZM340.4 141.3L342.9 140.1L347 140.4L350.8 141.1L352.2 144.3L350.9 146L348 145.7L345.2 149.5L342.5 151.3L343 148.1L340.2 148.8L342.1 145.7L342.9 143.2ZM336.8 156.9L340.8 154.5L346.1 153.3L351.2 152.7L353.1 152.9L348.5 155.3L342.6 157.9L338.2 158.3ZM351 150.9L354.5 148.7L359.5 148.1L363.5 147.7L363 149.7L358.3 151.1L354.2 150.9ZM311.3 111.8L314.9 109.5L316.3 110.6L314.9 118.7L313.1 122.6L310.7 123L312.3 117.5L311 114.8ZM278 67.4L285 64.1L292.9 62L297.3 63.2L295.9 65.6L289.7 67.1L287.3 66.2L281.9 68ZM717.8 326.7L720.2 324.7L724.4 324.7L725.3 327.4L724.1 331.2L722.6 333.9L720.7 335.3L718 334.3L717.7 329.8ZM708.6 338.7L710 343.1L710.3 347.9L712.7 352.8L714.8 359.6L713 360L709.5 353.2L707.8 348.3L707.8 342.7ZM724.6 363.2L726.7 366.1L727.3 371.3L727.9 376.5L728.8 382.2L726.7 382.6L725.8 376.9L725.2 371.3L724.9 366.5ZM358.5 386.6L361.1 387.8L363.5 391L361.4 390.6ZM301.2 277.1L303.3 276.7L304.9 279.5L302.7 279.9Z" fill="#fff"/>
<path d="M980.6 649.6L985.1 648.4L990.0 647.1L995.1 645.5L1000.5 643.8L1006.2 641.8L1012.1 639.8L1018.2 637.5L1024.6 635.1L1031.0 632.6L1037.6 629.9L1044.3 627.1L1051.1 624.2L1057.8 621.3L1064.4 618.2L1070.8 615.1L1077.0 611.9L1083.0 608.7L1088.8 605.4L1094.4 602.1L1099.9 598.8L1105.3 595.4L1110.6 592.0L1115.9 588.5L1121.1 585.1L1126.2 581.5L1131.3 578.0L1136.3 574.4L1141.3 570.8L1146.2 567.1L1151.1 563.5L1155.9 559.8L1160.6 556.0L1165.3 552.3L1169.9 548.5L1174.4 544.7L1178.8 540.9L1183.2 537.1L1187.4 533.2L1191.5 529.4L1195.5 525.5L1199.3 521.6L1203.0 517.7L1206.6 513.7L1210.1 509.8L1213.6 505.8L1217.0 501.9L1220.3 497.9L1223.6 493.9L1226.8 489.9L1229.8 485.9L1232.8 481.9L1235.6 477.9L1238.2 473.9L1240.8 469.9L1243.3 465.9L1245.7 461.9L1248.1 457.8L1250.3 453.8L1252.4 449.8L1254.4 445.8L1256.3 441.7L1258.1 437.7L1259.7 433.7L1261.3 429.7L1262.7 425.6L1264.0 421.6L1265.3 417.6L1266.4 413.6L1267.5 409.5L1268.6 405.5L1269.7 401.5L1270.7 397.5L1271.7 393.4L1272.7 389.4L1273.6 385.4L1274.4 381.4L1275.2 377.3L1275.9 373.3L1276.5 369.3L1277.1 365.3L1277.6 361.2L1278.0 357.2L1278.4 353.2L1278.8 349.2L1279.1 345.1L1279.4 341.1L1279.6 337.1L1279.8 333.1L1279.9 329.0L1280.0 325.0L1279.9 321.0L1279.8 316.9L1279.6 312.9L1279.4 308.9L1279.1 304.9L1278.8 300.8L1278.4 296.8L1278.0 292.8L1277.6 288.8L1277.1 284.7L1276.5 280.7L1275.9 276.7L1275.2 272.7L1274.4 268.6L1273.6 264.6L1272.7 260.6L1271.7 256.6L1270.7 252.5L1269.7 248.5L1268.6 244.5L1267.5 240.5L1266.4 236.4L1265.3 232.4L1264.0 228.4L1262.7 224.4L1261.3 220.3L1259.7 216.3L1258.1 212.3L1256.3 208.3L1254.4 204.2L1252.4 200.2L1250.3 196.2L1248.1 192.2L1245.7 188.1L1243.3 184.1L1240.8 180.1L1238.2 176.1L1235.6 172.1L1232.8 168.1L1229.8 164.1L1226.8 160.1L1223.6 156.1L1220.3 152.1L1217.0 148.1L1213.6 144.2L1210.1 140.2L1206.6 136.3L1203.0 132.3L1199.3 128.4L1195.5 124.5L1191.5 120.6L1187.4 116.8L1183.2 112.9L1178.8 109.1L1174.4 105.3L1169.9 101.5L1165.3 97.7L1160.6 94.0L1155.9 90.2L1151.1 86.5L1146.2 82.9L1141.3 79.2L1136.3 75.6L1131.3 72.0L1126.2 68.5L1121.1 64.9L1115.9 61.5L1110.6 58.0L1105.3 54.6L1099.9 51.2L1094.4 47.9L1088.8 44.6L1083.0 41.3L1077.0 38.1L1070.8 34.9L1064.4 31.8L1057.8 28.7L1051.1 25.8L1044.3 22.9L1037.6 20.1L1031.0 17.4L1024.6 14.9L1018.2 12.5L1012.1 10.2L1006.2 8.2L1000.5 6.2L995.1 4.5L990.0 2.9L985.1 1.6L980.6 0.4L299.4 0.4L294.9 1.6L290.0 2.9L284.9 4.5L279.5 6.2L273.8 8.2L267.9 10.2L261.8 12.5L255.4 14.9L249.0 17.4L242.4 20.1L235.7 22.9L228.9 25.8L222.2 28.7L215.6 31.8L209.2 34.9L203.0 38.1L197.0 41.3L191.2 44.6L185.6 47.9L180.1 51.2L174.7 54.6L169.4 58.0L164.1 61.5L158.9 64.9L153.8 68.5L148.7 72.0L143.7 75.6L138.7 79.2L133.8 82.9L128.9 86.5L124.1 90.2L119.4 94.0L114.7 97.7L110.1 101.5L105.6 105.3L101.2 109.1L96.8 112.9L92.6 116.8L88.5 120.6L84.5 124.5L80.7 128.4L77.0 132.3L73.4 136.3L69.9 140.2L66.4 144.2L63.0 148.1L59.7 152.1L56.4 156.1L53.2 160.1L50.2 164.1L47.2 168.1L44.4 172.1L41.8 176.1L39.2 180.1L36.7 184.1L34.3 188.1L31.9 192.2L29.7 196.2L27.6 200.2L25.6 204.2L23.7 208.3L21.9 212.3L20.3 216.3L18.7 220.3L17.3 224.4L16.0 228.4L14.7 232.4L13.6 236.4L12.5 240.5L11.4 244.5L10.3 248.5L9.3 252.5L8.3 256.6L7.3 260.6L6.4 264.6L5.6 268.6L4.8 272.7L4.1 276.7L3.5 280.7L2.9 284.7L2.4 288.8L2.0 292.8L1.6 296.8L1.2 300.8L0.9 304.9L0.6 308.9L0.4 312.9L0.2 316.9L0.1 321.0L0.0 325.0L0.1 329.0L0.2 333.1L0.4 337.1L0.6 341.1L0.9 345.1L1.2 349.2L1.6 353.2L2.0 357.2L2.4 361.2L2.9 365.3L3.5 369.3L4.1 373.3L4.8 377.3L5.6 381.4L6.4 385.4L7.3 389.4L8.3 393.4L9.3 397.5L10.3 401.5L11.4 405.5L12.5 409.5L13.6 413.6L14.7 417.6L16.0 421.6L17.3 425.6L18.7 429.7L20.3 433.7L21.9 437.7L23.7 441.7L25.6 445.8L27.6 449.8L29.7 453.8L31.9 457.8L34.3 461.9L36.7 465.9L39.2 469.9L41.8 473.9L44.4 477.9L47.2 481.9L50.2 485.9L53.2 489.9L56.4 493.9L59.7 497.9L63.0 501.9L66.4 505.8L69.9 509.8L73.4 513.7L77.0 517.7L80.7 521.6L84.5 525.5L88.5 529.4L92.6 533.2L96.8 537.1L101.2 540.9L105.6 544.7L110.1 548.5L114.7 552.3L119.4 556.0L124.1 559.8L128.9 563.5L133.8 567.1L138.7 570.8L143.7 574.4L148.7 578.0L153.8 581.5L158.9 585.1L164.1 588.5L169.4 592.0L174.7 595.4L180.1 598.8L185.6 602.1L191.2 605.4L197.0 608.7L203.0 611.9L209.2 615.1L215.6 618.2L222.2 621.3L228.9 624.2L235.7 627.1L242.4 629.9L249.0 632.6L255.4 635.1L261.8 637.5L267.9 639.8L273.8 641.8L279.5 643.8L284.9 645.5L290.0 647.1L294.9 648.4L299.4 649.6Z" fill="none" stroke="#929292" stroke-width="0.65"/>
<defs><radialGradient id="wg" gradientUnits="objectBoundingBox"><stop offset="0" stop-color="#fff" stop-opacity="1"/><stop offset="0.45" stop-color="#fff" stop-opacity="1"/><stop offset="0.64" stop-color="#fff" stop-opacity="0.85"/><stop offset="0.8" stop-color="#fff" stop-opacity="0.45"/><stop offset="0.92" stop-color="#fff" stop-opacity="0.15"/><stop offset="1" stop-color="#fff" stop-opacity="0"/></radialGradient></defs>
<g id="mbg"><circle cx="218.3" cy="68.4" r="14.10" fill="#fff" fill-opacity="0.36"/><circle cx="218.3" cy="68.4" r="9.35" fill="#fff" fill-opacity="0.86"/><circle cx="134.2" cy="106.4" r="14.10" fill="#fff" fill-opacity="0.36"/><circle cx="134.2" cy="106.4" r="9.35" fill="#fff" fill-opacity="0.86"/><circle cx="216.4" cy="194.4" r="14.10" fill="#fff" fill-opacity="0.36"/><circle cx="216.4" cy="194.4" r="9.35" fill="#fff" fill-opacity="0.86"/><circle cx="223" cy="214" r="19.30" fill="#fff" fill-opacity="0.36"/><circle cx="223" cy="214" r="14.40" fill="#fff" fill-opacity="0.61"/><circle cx="223" cy="214" r="9.50" fill="#fff" fill-opacity="0.86"/><circle cx="252.2" cy="256.4" r="19.30" fill="#fff" fill-opacity="0.36"/><circle cx="252.2" cy="256.4" r="14.40" fill="#fff" fill-opacity="0.61"/><circle cx="252.2" cy="256.4" r="9.50" fill="#fff" fill-opacity="0.86"/><circle cx="273.4" cy="258" r="19.30" fill="#fff" fill-opacity="0.36"/><circle cx="273.4" cy="258" r="14.40" fill="#fff" fill-opacity="0.61"/><circle cx="273.4" cy="258" r="9.50" fill="#fff" fill-opacity="0.86"/><circle cx="306.4" cy="296.6" r="14.10" fill="#fff" fill-opacity="0.36"/><circle cx="306.4" cy="296.6" r="9.35" fill="#fff" fill-opacity="0.86"/><circle cx="306.4" cy="315.3" r="19.30" fill="#fff" fill-opacity="0.36"/><circle cx="306.4" cy="315.3" r="14.40" fill="#fff" fill-opacity="0.61"/><circle cx="306.4" cy="315.3" r="9.50" fill="#fff" fill-opacity="0.86"/><circle cx="362.5" cy="402.6" r="14.10" fill="#fff" fill-opacity="0.36"/><circle cx="362.5" cy="402.6" r="9.35" fill="#fff" fill-opacity="0.86"/><circle cx="374.3" cy="420.1" r="19.30" fill="#fff" fill-opacity="0.36"/><circle cx="374.3" cy="420.1" r="14.40" fill="#fff" fill-opacity="0.61"/><circle cx="374.3" cy="420.1" r="9.50" fill="#fff" fill-opacity="0.86"/><circle cx="363" cy="448.4" r="28.90" fill="#fff" fill-opacity="0.36"/><circle cx="363" cy="448.4" r="24.85" fill="#fff" fill-opacity="0.46"/><circle cx="363" cy="448.4" r="20.80" fill="#fff" fill-opacity="0.56"/><circle cx="363" cy="448.4" r="16.75" fill="#fff" fill-opacity="0.66"/><circle cx="363" cy="448.4" r="12.70" fill="#fff" fill-opacity="0.76"/><circle cx="363" cy="448.4" r="8.65" fill="#fff" fill-opacity="0.86"/><circle cx="367.2" cy="492.4" r="19.30" fill="#fff" fill-opacity="0.36"/><circle cx="367.2" cy="492.4" r="14.40" fill="#fff" fill-opacity="0.61"/><circle cx="367.2" cy="492.4" r="9.50" fill="#fff" fill-opacity="0.86"/><circle cx="626.4" cy="42.4" r="19.30" fill="#fff" fill-opacity="0.36"/><circle cx="626.4" cy="42.4" r="14.40" fill="#fff" fill-opacity="0.61"/><circle cx="626.4" cy="42.4" r="9.50" fill="#fff" fill-opacity="0.86"/><circle cx="697.3" cy="177.1" r="14.10" fill="#fff" fill-opacity="0.36"/><circle cx="697.3" cy="177.1" r="9.35" fill="#fff" fill-opacity="0.86"/><circle cx="758" cy="152" r="14.10" fill="#fff" fill-opacity="0.36"/><circle cx="758" cy="152" r="9.35" fill="#fff" fill-opacity="0.86"/><circle cx="839.2" cy="174.2" r="19.30" fill="#fff" fill-opacity="0.36"/><circle cx="839.2" cy="174.2" r="14.40" fill="#fff" fill-opacity="0.61"/><circle cx="839.2" cy="174.2" r="9.50" fill="#fff" fill-opacity="0.86"/><circle cx="787.5" cy="214.3" r="19.30" fill="#fff" fill-opacity="0.36"/><circle cx="787.5" cy="214.3" r="14.40" fill="#fff" fill-opacity="0.61"/><circle cx="787.5" cy="214.3" r="9.50" fill="#fff" fill-opacity="0.86"/><circle cx="1167.2" cy="119.3" r="19.30" fill="#fff" fill-opacity="0.36"/><circle cx="1167.2" cy="119.3" r="14.40" fill="#fff" fill-opacity="0.61"/><circle cx="1167.2" cy="119.3" r="9.50" fill="#fff" fill-opacity="0.86"/><circle cx="1080.3" cy="147.2" r="24.30" fill="#fff" fill-opacity="0.36"/><circle cx="1080.3" cy="147.2" r="19.38" fill="#fff" fill-opacity="0.53"/><circle cx="1080.3" cy="147.2" r="14.45" fill="#fff" fill-opacity="0.69"/><circle cx="1080.3" cy="147.2" r="9.53" fill="#fff" fill-opacity="0.86"/><circle cx="1094.2" cy="147.2" r="19.30" fill="#fff" fill-opacity="0.36"/><circle cx="1094.2" cy="147.2" r="14.40" fill="#fff" fill-opacity="0.61"/><circle cx="1094.2" cy="147.2" r="9.50" fill="#fff" fill-opacity="0.86"/><circle cx="1093.2" cy="117.4" r="14.10" fill="#fff" fill-opacity="0.36"/><circle cx="1093.2" cy="117.4" r="9.35" fill="#fff" fill-opacity="0.86"/><circle cx="1065.6" cy="179" r="14.10" fill="#fff" fill-opacity="0.36"/><circle cx="1065.6" cy="179" r="9.35" fill="#fff" fill-opacity="0.86"/><circle cx="1025" cy="242.4" r="24.30" fill="#fff" fill-opacity="0.36"/><circle cx="1025" cy="242.4" r="19.38" fill="#fff" fill-opacity="0.53"/><circle cx="1025" cy="242.4" r="14.45" fill="#fff" fill-opacity="0.69"/><circle cx="1025" cy="242.4" r="9.53" fill="#fff" fill-opacity="0.86"/><circle cx="1027" cy="227" r="14.10" fill="#fff" fill-opacity="0.36"/><circle cx="1027" cy="227" r="9.35" fill="#fff" fill-opacity="0.86"/><circle cx="1115.3" cy="268.4" r="24.30" fill="#fff" fill-opacity="0.36"/><circle cx="1115.3" cy="268.4" r="19.38" fill="#fff" fill-opacity="0.53"/><circle cx="1115.3" cy="268.4" r="14.45" fill="#fff" fill-opacity="0.69"/><circle cx="1115.3" cy="268.4" r="9.53" fill="#fff" fill-opacity="0.86"/><circle cx="1044.4" cy="298.4" r="14.10" fill="#fff" fill-opacity="0.36"/><circle cx="1044.4" cy="298.4" r="9.35" fill="#fff" fill-opacity="0.86"/><circle cx="944.4" cy="308" r="19.30" fill="#fff" fill-opacity="0.36"/><circle cx="944.4" cy="308" r="14.40" fill="#fff" fill-opacity="0.61"/><circle cx="944.4" cy="308" r="9.50" fill="#fff" fill-opacity="0.86"/><circle cx="1148.4" cy="342.4" r="24.30" fill="#fff" fill-opacity="0.36"/><circle cx="1148.4" cy="342.4" r="19.38" fill="#fff" fill-opacity="0.53"/><circle cx="1148.4" cy="342.4" r="14.45" fill="#fff" fill-opacity="0.69"/><circle cx="1148.4" cy="342.4" r="9.53" fill="#fff" fill-opacity="0.86"/><circle cx="1080" cy="344.2" r="19.30" fill="#fff" fill-opacity="0.36"/><circle cx="1080" cy="344.2" r="14.40" fill="#fff" fill-opacity="0.61"/><circle cx="1080" cy="344.2" r="9.50" fill="#fff" fill-opacity="0.86"/><circle cx="1103.6" cy="332.8" r="19.30" fill="#fff" fill-opacity="0.36"/><circle cx="1103.6" cy="332.8" r="14.40" fill="#fff" fill-opacity="0.61"/><circle cx="1103.6" cy="332.8" r="9.50" fill="#fff" fill-opacity="0.86"/><circle cx="1108.2" cy="346" r="14.10" fill="#fff" fill-opacity="0.36"/><circle cx="1108.2" cy="346" r="9.35" fill="#fff" fill-opacity="0.86"/><circle cx="1057.3" cy="337.6" r="14.10" fill="#fff" fill-opacity="0.36"/><circle cx="1057.3" cy="337.6" r="9.35" fill="#fff" fill-opacity="0.86"/><circle cx="1050.0" cy="321.9" r="14.10" fill="#fff" fill-opacity="0.36"/><circle cx="1050.0" cy="321.9" r="9.35" fill="#fff" fill-opacity="0.86"/><circle cx="1007.2" cy="370.5" r="19.30" fill="#fff" fill-opacity="0.36"/><circle cx="1007.2" cy="370.5" r="14.40" fill="#fff" fill-opacity="0.61"/><circle cx="1007.2" cy="370.5" r="9.50" fill="#fff" fill-opacity="0.86"/><circle cx="1242.2" cy="398.6" r="24.30" fill="#fff" fill-opacity="0.36"/><circle cx="1242.2" cy="398.6" r="19.38" fill="#fff" fill-opacity="0.53"/><circle cx="1242.2" cy="398.6" r="14.45" fill="#fff" fill-opacity="0.69"/><circle cx="1242.2" cy="398.6" r="9.53" fill="#fff" fill-opacity="0.86"/><circle cx="1217.2" cy="444.3" r="19.30" fill="#fff" fill-opacity="0.36"/><circle cx="1217.2" cy="444.3" r="14.40" fill="#fff" fill-opacity="0.61"/><circle cx="1217.2" cy="444.3" r="9.50" fill="#fff" fill-opacity="0.86"/><circle cx="1212.4" cy="465.1" r="19.30" fill="#fff" fill-opacity="0.36"/><circle cx="1212.4" cy="465.1" r="14.40" fill="#fff" fill-opacity="0.61"/><circle cx="1212.4" cy="465.1" r="9.50" fill="#fff" fill-opacity="0.86"/><circle cx="1188.4" cy="468.5" r="19.30" fill="#fff" fill-opacity="0.36"/><circle cx="1188.4" cy="468.5" r="14.40" fill="#fff" fill-opacity="0.61"/><circle cx="1188.4" cy="468.5" r="9.50" fill="#fff" fill-opacity="0.86"/><circle cx="1181.2" cy="495.3" r="14.10" fill="#fff" fill-opacity="0.36"/><circle cx="1181.2" cy="495.3" r="9.35" fill="#fff" fill-opacity="0.86"/></g>
<g id="markers"><g transform="translate(218.3 68.4)"><circle r="13.50" fill="none" stroke="#b81c34" stroke-width="2.4" stroke-opacity="0.58"/><circle r="8.75" fill="none" stroke="#b81c34" stroke-width="2.4" stroke-opacity="1.00"/><circle r="4.0" fill="#fff" fill-opacity="0.8" stroke="#c00c1c" stroke-width="3.0"/></g><g transform="translate(134.2 106.4)"><circle r="13.50" fill="none" stroke="#b8402a" stroke-width="2.4" stroke-opacity="0.58"/><circle r="8.75" fill="none" stroke="#b8402a" stroke-width="2.4" stroke-opacity="1.00"/><circle r="4.0" fill="#fff" fill-opacity="0.8" stroke="#c6260c" stroke-width="3.0"/></g><g transform="translate(216.4 194.4)"><circle r="13.50" fill="none" stroke="#b81c34" stroke-width="2.4" stroke-opacity="0.58"/><circle r="8.75" fill="none" stroke="#b81c34" stroke-width="2.4" stroke-opacity="1.00"/><circle r="4.0" fill="#fff" fill-opacity="0.8" stroke="#c00c1c" stroke-width="3.0"/></g><g transform="translate(223 214)"><circle r="18.70" fill="none" stroke="#b81c34" stroke-width="2.4" stroke-opacity="0.58"/><circle r="13.80" fill="none" stroke="#b81c34" stroke-width="2.4" stroke-opacity="0.79"/><circle r="8.90" fill="none" stroke="#b81c34" stroke-width="2.4" stroke-opacity="1.00"/><circle r="4.0" fill="#fff" fill-opacity="0.8" stroke="#c00c1c" stroke-width="3.0"/></g><g transform="translate(252.2 256.4)"><circle r="18.70" fill="none" stroke="#b81c34" stroke-width="2.4" stroke-opacity="0.58"/><circle r="13.80" fill="none" stroke="#b81c34" stroke-width="2.4" stroke-opacity="0.79"/><circle r="8.90" fill="none" stroke="#b81c34" stroke-width="2.4" stroke-opacity="1.00"/><circle r="4.0" fill="#fff" fill-opacity="0.8" stroke="#c00c1c" stroke-width="3.0"/></g><g transform="translate(273.4 258)"><circle r="18.70" fill="none" stroke="#2c2cb0" stroke-width="2.4" stroke-opacity="0.58"/><circle r="13.80" fill="none" stroke="#2c2cb0" stroke-width="2.4" stroke-opacity="0.79"/><circle r="8.90" fill="none" stroke="#2c2cb0" stroke-width="2.4" stroke-opacity="1.00"/><circle r="4.0" fill="#fff" fill-opacity="0.8" stroke="#1010a4" stroke-width="3.0"/></g><g transform="translate(306.4 296.6)"><circle r="13.50" fill="none" stroke="#b81c34" stroke-width="2.4" stroke-opacity="0.58"/><circle r="8.75" fill="none" stroke="#b81c34" stroke-width="2.4" stroke-opacity="1.00"/><circle r="4.0" fill="#fff" fill-opacity="0.8" stroke="#c00c1c" stroke-width="3.0"/></g><g transform="translate(306.4 315.3)"><circle r="18.70" fill="none" stroke="#b81c34" stroke-width="2.4" stroke-opacity="0.58"/><circle r="13.80" fill="none" stroke="#b81c34" stroke-width="2.4" stroke-opacity="0.79"/><circle r="8.90" fill="none" stroke="#b81c34" stroke-width="2.4" stroke-opacity="1.00"/><circle r="4.0" fill="#fff" fill-opacity="0.8" stroke="#c00c1c" stroke-width="3.0"/></g><g transform="translate(362.5 402.6)"><circle r="13.50" fill="none" stroke="#1f7e30" stroke-width="2.4" stroke-opacity="0.58"/><circle r="8.75" fill="none" stroke="#1f7e30" stroke-width="2.4" stroke-opacity="1.00"/><circle r="4.0" fill="#fff" fill-opacity="0.8" stroke="#0c7c18" stroke-width="3.0"/></g><g transform="translate(374.3 420.1)"><circle r="18.70" fill="none" stroke="#40308c" stroke-width="2.4" stroke-opacity="0.58"/><circle r="13.80" fill="none" stroke="#40308c" stroke-width="2.4" stroke-opacity="0.79"/><circle r="8.90" fill="none" stroke="#40308c" stroke-width="2.4" stroke-opacity="1.00"/><circle r="4.0" fill="#fff" fill-opacity="0.8" stroke="#1e0e7c" stroke-width="3.0"/></g><g transform="translate(363 448.4)"><circle r="28.30" fill="none" stroke="#a6a620" stroke-width="1.9" stroke-opacity="0.58"/><circle r="24.25" fill="none" stroke="#a6a620" stroke-width="1.9" stroke-opacity="0.66"/><circle r="20.20" fill="none" stroke="#a6a620" stroke-width="1.9" stroke-opacity="0.75"/><circle r="16.15" fill="none" stroke="#a6a620" stroke-width="1.9" stroke-opacity="0.83"/><circle r="12.10" fill="none" stroke="#a6a620" stroke-width="1.9" stroke-opacity="0.92"/><circle r="8.05" fill="none" stroke="#a6a620" stroke-width="1.9" stroke-opacity="1.00"/><circle r="4.0" fill="#fff" fill-opacity="0.8" stroke="#7c7c08" stroke-width="3.0"/></g><g transform="translate(367.2 492.4)"><circle r="18.70" fill="none" stroke="#a6a620" stroke-width="2.4" stroke-opacity="0.58"/><circle r="13.80" fill="none" stroke="#a6a620" stroke-width="2.4" stroke-opacity="0.79"/><circle r="8.90" fill="none" stroke="#a6a620" stroke-width="2.4" stroke-opacity="1.00"/><circle r="4.0" fill="#fff" fill-opacity="0.8" stroke="#7c7c08" stroke-width="3.0"/></g><g transform="translate(626.4 42.4)"><circle r="18.70" fill="none" stroke="#b81c34" stroke-width="2.4" stroke-opacity="0.58"/><circle r="13.80" fill="none" stroke="#b81c34" stroke-width="2.4" stroke-opacity="0.79"/><circle r="8.90" fill="none" stroke="#b81c34" stroke-width="2.4" stroke-opacity="1.00"/><circle r="4.0" fill="#fff" fill-opacity="0.8" stroke="#c00c1c" stroke-width="3.0"/></g><g transform="translate(697.3 177.1)"><circle r="13.50" fill="none" stroke="#b81c34" stroke-width="2.4" stroke-opacity="0.58"/><circle r="8.75" fill="none" stroke="#b81c34" stroke-width="2.4" stroke-opacity="1.00"/><circle r="4.0" fill="#fff" fill-opacity="0.8" stroke="#c00c1c" stroke-width="3.0"/></g><g transform="translate(758 152)"><circle r="13.50" fill="none" stroke="#b81c34" stroke-width="2.4" stroke-opacity="0.58"/><circle r="8.75" fill="none" stroke="#b81c34" stroke-width="2.4" stroke-opacity="1.00"/><circle r="4.0" fill="#fff" fill-opacity="0.8" stroke="#c00c1c" stroke-width="3.0"/></g><g transform="translate(839.2 174.2)"><circle r="18.70" fill="none" stroke="#1f7e30" stroke-width="2.4" stroke-opacity="0.58"/><circle r="13.80" fill="none" stroke="#1f7e30" stroke-width="2.4" stroke-opacity="0.79"/><circle r="8.90" fill="none" stroke="#1f7e30" stroke-width="2.4" stroke-opacity="1.00"/><circle r="4.0" fill="#fff" fill-opacity="0.8" stroke="#0c7c18" stroke-width="3.0"/></g><g transform="translate(787.5 214.3)"><circle r="18.70" fill="none" stroke="#b81c34" stroke-width="2.4" stroke-opacity="0.58"/><circle r="13.80" fill="none" stroke="#b81c34" stroke-width="2.4" stroke-opacity="0.79"/><circle r="8.90" fill="none" stroke="#b81c34" stroke-width="2.4" stroke-opacity="1.00"/><circle r="4.0" fill="#fff" fill-opacity="0.8" stroke="#c00c1c" stroke-width="3.0"/></g><g transform="translate(1167.2 119.3)"><circle r="18.70" fill="none" stroke="#1f7e30" stroke-width="2.4" stroke-opacity="0.58"/><circle r="13.80" fill="none" stroke="#1f7e30" stroke-width="2.4" stroke-opacity="0.79"/><circle r="8.90" fill="none" stroke="#1f7e30" stroke-width="2.4" stroke-opacity="1.00"/><circle r="4.0" fill="#fff" fill-opacity="0.8" stroke="#0c7c18" stroke-width="3.0"/></g><g transform="translate(1080.3 147.2)"><circle r="23.70" fill="none" stroke="#1f7e30" stroke-width="2.4" stroke-opacity="0.58"/><circle r="18.77" fill="none" stroke="#1f7e30" stroke-width="2.4" stroke-opacity="0.72"/><circle r="13.85" fill="none" stroke="#1f7e30" stroke-width="2.4" stroke-opacity="0.86"/><circle r="8.93" fill="none" stroke="#1f7e30" stroke-width="2.4" stroke-opacity="1.00"/><circle r="4.0" fill="#fff" fill-opacity="0.8" stroke="#0c7c18" stroke-width="3.0"/></g><g transform="translate(1094.2 147.2)"><circle r="18.70" fill="none" stroke="#b81c34" stroke-width="2.4" stroke-opacity="0.58"/><circle r="13.80" fill="none" stroke="#b81c34" stroke-width="2.4" stroke-opacity="0.79"/><circle r="8.90" fill="none" stroke="#b81c34" stroke-width="2.4" stroke-opacity="1.00"/><circle r="4.0" fill="#fff" fill-opacity="0.8" stroke="#c00c1c" stroke-width="3.0"/></g><g transform="translate(1093.2 117.4)"><circle r="13.50" fill="none" stroke="#1f7e30" stroke-width="2.4" stroke-opacity="0.58"/><circle r="8.75" fill="none" stroke="#1f7e30" stroke-width="2.4" stroke-opacity="1.00"/><circle r="4.0" fill="#fff" fill-opacity="0.8" stroke="#0c7c18" stroke-width="3.0"/></g><g transform="translate(1065.6 179)"><circle r="13.50" fill="none" stroke="#40308c" stroke-width="2.4" stroke-opacity="0.58"/><circle r="8.75" fill="none" stroke="#40308c" stroke-width="2.4" stroke-opacity="1.00"/><circle r="4.0" fill="#fff" fill-opacity="0.8" stroke="#1e0e7c" stroke-width="3.0"/></g><g transform="translate(1025 242.4)"><circle r="23.70" fill="none" stroke="#b8402a" stroke-width="2.4" stroke-opacity="0.58"/><circle r="18.77" fill="none" stroke="#b8402a" stroke-width="2.4" stroke-opacity="0.72"/><circle r="13.85" fill="none" stroke="#b8402a" stroke-width="2.4" stroke-opacity="0.86"/><circle r="8.93" fill="none" stroke="#b8402a" stroke-width="2.4" stroke-opacity="1.00"/><circle r="4.0" fill="#fff" fill-opacity="0.8" stroke="#c6260c" stroke-width="3.0"/></g><g transform="translate(1027 227)"><circle r="13.50" fill="none" stroke="#b81c34" stroke-width="2.4" stroke-opacity="0.58"/><circle r="8.75" fill="none" stroke="#b81c34" stroke-width="2.4" stroke-opacity="1.00"/><circle r="4.0" fill="#fff" fill-opacity="0.8" stroke="#c00c1c" stroke-width="3.0"/></g><g transform="translate(1115.3 268.4)"><circle r="23.70" fill="none" stroke="#2c2cb0" stroke-width="2.4" stroke-opacity="0.58"/><circle r="18.77" fill="none" stroke="#2c2cb0" stroke-width="2.4" stroke-opacity="0.72"/><circle r="13.85" fill="none" stroke="#2c2cb0" stroke-width="2.4" stroke-opacity="0.86"/><circle r="8.93" fill="none" stroke="#2c2cb0" stroke-width="2.4" stroke-opacity="1.00"/><circle r="4.0" fill="#fff" fill-opacity="0.8" stroke="#1010a4" stroke-width="3.0"/></g><g transform="translate(1044.4 298.4)"><circle r="13.50" fill="none" stroke="#b81c34" stroke-width="2.4" stroke-opacity="0.58"/><circle r="8.75" fill="none" stroke="#b81c34" stroke-width="2.4" stroke-opacity="1.00"/><circle r="4.0" fill="#fff" fill-opacity="0.8" stroke="#c00c1c" stroke-width="3.0"/></g><g transform="translate(944.4 308)"><circle r="18.70" fill="none" stroke="#b81c34" stroke-width="2.4" stroke-opacity="0.58"/><circle r="13.80" fill="none" stroke="#b81c34" stroke-width="2.4" stroke-opacity="0.79"/><circle r="8.90" fill="none" stroke="#b81c34" stroke-width="2.4" stroke-opacity="1.00"/><circle r="4.0" fill="#fff" fill-opacity="0.8" stroke="#c00c1c" stroke-width="3.0"/></g><g transform="translate(1148.4 342.4)"><circle r="23.70" fill="none" stroke="#b81c34" stroke-width="2.4" stroke-opacity="0.58"/><circle r="18.77" fill="none" stroke="#b81c34" stroke-width="2.4" stroke-opacity="0.72"/><circle r="13.85" fill="none" stroke="#b81c34" stroke-width="2.4" stroke-opacity="0.86"/><circle r="8.93" fill="none" stroke="#b81c34" stroke-width="2.4" stroke-opacity="1.00"/><circle r="4.0" fill="#fff" fill-opacity="0.8" stroke="#c00c1c" stroke-width="3.0"/></g><g transform="translate(1080 344.2)"><circle r="18.70" fill="none" stroke="#b81c34" stroke-width="2.4" stroke-opacity="0.58"/><circle r="13.80" fill="none" stroke="#b81c34" stroke-width="2.4" stroke-opacity="0.79"/><circle r="8.90" fill="none" stroke="#b81c34" stroke-width="2.4" stroke-opacity="1.00"/><circle r="4.0" fill="#fff" fill-opacity="0.8" stroke="#c00c1c" stroke-width="3.0"/></g><g transform="translate(1103.6 332.8)"><circle r="18.70" fill="none" stroke="#b81c34" stroke-width="2.4" stroke-opacity="0.58"/><circle r="13.80" fill="none" stroke="#b81c34" stroke-width="2.4" stroke-opacity="0.79"/><circle r="8.90" fill="none" stroke="#b81c34" stroke-width="2.4" stroke-opacity="1.00"/><circle r="4.0" fill="#fff" fill-opacity="0.8" stroke="#c00c1c" stroke-width="3.0"/></g><g transform="translate(1108.2 346)"><circle r="13.50" fill="none" stroke="#b81c34" stroke-width="2.4" stroke-opacity="0.58"/><circle r="8.75" fill="none" stroke="#b81c34" stroke-width="2.4" stroke-opacity="1.00"/><circle r="4.0" fill="#fff" fill-opacity="0.8" stroke="#c00c1c" stroke-width="3.0"/></g><g transform="translate(1057.3 337.6)"><circle r="13.50" fill="none" stroke="#d07038" stroke-width="2.4" stroke-opacity="0.58"/><circle r="8.75" fill="none" stroke="#d07038" stroke-width="2.4" stroke-opacity="1.00"/><circle r="4.0" fill="#fff" fill-opacity="0.8" stroke="#cc4c10" stroke-width="3.0"/></g><g transform="translate(1050.0 321.9)"><circle r="13.50" fill="none" stroke="#a6a620" stroke-width="2.4" stroke-opacity="0.58"/><circle r="8.75" fill="none" stroke="#a6a620" stroke-width="2.4" stroke-opacity="1.00"/><circle r="4.0" fill="#fff" fill-opacity="0.8" stroke="#7c7c08" stroke-width="3.0"/></g><g transform="translate(1007.2 370.5)"><circle r="18.70" fill="none" stroke="#b81c34" stroke-width="2.4" stroke-opacity="0.58"/><circle r="13.80" fill="none" stroke="#b81c34" stroke-width="2.4" stroke-opacity="0.79"/><circle r="8.90" fill="none" stroke="#b81c34" stroke-width="2.4" stroke-opacity="1.00"/><circle r="4.0" fill="#fff" fill-opacity="0.8" stroke="#c00c1c" stroke-width="3.0"/></g><g transform="translate(1242.2 398.6)"><circle r="23.70" fill="none" stroke="#40308c" stroke-width="2.4" stroke-opacity="0.58"/><circle r="18.77" fill="none" stroke="#40308c" stroke-width="2.4" stroke-opacity="0.72"/><circle r="13.85" fill="none" stroke="#40308c" stroke-width="2.4" stroke-opacity="0.86"/><circle r="8.93" fill="none" stroke="#40308c" stroke-width="2.4" stroke-opacity="1.00"/><circle r="4.0" fill="#fff" fill-opacity="0.8" stroke="#1e0e7c" stroke-width="3.0"/></g><g transform="translate(1217.2 444.3)"><circle r="18.70" fill="none" stroke="#a6a620" stroke-width="2.4" stroke-opacity="0.58"/><circle r="13.80" fill="none" stroke="#a6a620" stroke-width="2.4" stroke-opacity="0.79"/><circle r="8.90" fill="none" stroke="#a6a620" stroke-width="2.4" stroke-opacity="1.00"/><circle r="4.0" fill="#fff" fill-opacity="0.8" stroke="#7c7c08" stroke-width="3.0"/></g><g transform="translate(1212.4 465.1)"><circle r="18.70" fill="none" stroke="#a6a620" stroke-width="2.4" stroke-opacity="0.58"/><circle r="13.80" fill="none" stroke="#a6a620" stroke-width="2.4" stroke-opacity="0.79"/><circle r="8.90" fill="none" stroke="#a6a620" stroke-width="2.4" stroke-opacity="1.00"/><circle r="4.0" fill="#fff" fill-opacity="0.8" stroke="#7c7c08" stroke-width="3.0"/></g><g transform="translate(1188.4 468.5)"><circle r="18.70" fill="none" stroke="#40308c" stroke-width="2.4" stroke-opacity="0.58"/><circle r="13.80" fill="none" stroke="#40308c" stroke-width="2.4" stroke-opacity="0.79"/><circle r="8.90" fill="none" stroke="#40308c" stroke-width="2.4" stroke-opacity="1.00"/><circle r="4.0" fill="#fff" fill-opacity="0.8" stroke="#1e0e7c" stroke-width="3.0"/></g><g transform="translate(1181.2 495.3)"><circle r="13.50" fill="none" stroke="#40308c" stroke-width="2.4" stroke-opacity="0.58"/><circle r="8.75" fill="none" stroke="#40308c" stroke-width="2.4" stroke-opacity="1.00"/><circle r="4.0" fill="#fff" fill-opacity="0.8" stroke="#1e0e7c" stroke-width="3.0"/></g></g>
<g id="labels" font-family="'Liberation Sans',sans-serif" font-weight="bold" font-size="17.0" fill="#000" stroke="#000" stroke-width="0.2">
<text y="82.40"><tspan x="231.88" textLength="41.57" lengthAdjust="spacingAndGlyphs">M3.7</tspan> <tspan x="279.07" textLength="48.53" lengthAdjust="spacingAndGlyphs">11Feb</tspan> <tspan x="334.10" textLength="45.52" lengthAdjust="spacingAndGlyphs">23:48</tspan></text>
<text y="120.30"><tspan x="147.68" textLength="41.57" lengthAdjust="spacingAndGlyphs">M3.5</tspan> <tspan x="194.87" textLength="48.53" lengthAdjust="spacingAndGlyphs">11Feb</tspan> <tspan x="249.90" textLength="45.52" lengthAdjust="spacingAndGlyphs">23:57</tspan></text>
<text y="192.50"><tspan x="229.78" textLength="41.57" lengthAdjust="spacingAndGlyphs">M3.6</tspan> <tspan x="276.97" textLength="48.53" lengthAdjust="spacingAndGlyphs">11Feb</tspan> <tspan x="332.00" textLength="45.52" lengthAdjust="spacingAndGlyphs">23:51</tspan></text>
<text y="232.50"><tspan x="240.68" textLength="41.57" lengthAdjust="spacingAndGlyphs">M4.2</tspan> <tspan x="287.87" textLength="49.47" lengthAdjust="spacingAndGlyphs">12Feb</tspan> <tspan x="342.90" textLength="45.52" lengthAdjust="spacingAndGlyphs">03:45</tspan></text>
<text y="274.40"><tspan x="89.38" textLength="41.57" lengthAdjust="spacingAndGlyphs">M4.1</tspan> <tspan x="136.57" textLength="48.53" lengthAdjust="spacingAndGlyphs">11Feb</tspan> <tspan x="191.60" textLength="45.52" lengthAdjust="spacingAndGlyphs">21:52</tspan></text>
<text y="276.50"><tspan x="290.58" textLength="41.57" lengthAdjust="spacingAndGlyphs">M4.1</tspan> <tspan x="337.77" textLength="49.47" lengthAdjust="spacingAndGlyphs">12Feb</tspan> <tspan x="392.80" textLength="45.52" lengthAdjust="spacingAndGlyphs">06:08</tspan></text>
<text y="310.00"><tspan x="320.18" textLength="41.57" lengthAdjust="spacingAndGlyphs">M3.7</tspan> <tspan x="367.37" textLength="49.47" lengthAdjust="spacingAndGlyphs">12Feb</tspan> <tspan x="422.40" textLength="45.52" lengthAdjust="spacingAndGlyphs">14:38</tspan></text>
<text y="333.30"><tspan x="323.88" textLength="41.57" lengthAdjust="spacingAndGlyphs">M4.7</tspan> <tspan x="371.07" textLength="49.47" lengthAdjust="spacingAndGlyphs">12Feb</tspan> <tspan x="426.10" textLength="45.52" lengthAdjust="spacingAndGlyphs">14:37</tspan></text>
<text y="399.40"><tspan x="375.68" textLength="41.57" lengthAdjust="spacingAndGlyphs">M3.7</tspan> <tspan x="422.87" textLength="48.53" lengthAdjust="spacingAndGlyphs">11Feb</tspan> <tspan x="477.90" textLength="45.52" lengthAdjust="spacingAndGlyphs">22:22</tspan></text>
<text y="438.30"><tspan x="391.78" textLength="41.57" lengthAdjust="spacingAndGlyphs">M4.2</tspan> <tspan x="438.97" textLength="48.53" lengthAdjust="spacingAndGlyphs">11Feb</tspan> <tspan x="494.00" textLength="45.52" lengthAdjust="spacingAndGlyphs">23:07</tspan></text>
<text y="474.80"><tspan x="388.68" textLength="41.57" lengthAdjust="spacingAndGlyphs">M6.2</tspan> <tspan x="435.87" textLength="49.47" lengthAdjust="spacingAndGlyphs">12Feb</tspan> <tspan x="490.90" textLength="45.52" lengthAdjust="spacingAndGlyphs">13:34</tspan></text>
<text y="510.30"><tspan x="384.48" textLength="41.57" lengthAdjust="spacingAndGlyphs">M4.1</tspan> <tspan x="431.67" textLength="49.47" lengthAdjust="spacingAndGlyphs">12Feb</tspan> <tspan x="486.70" textLength="45.52" lengthAdjust="spacingAndGlyphs">04:05</tspan></text>
<text y="60.30"><tspan x="643.78" textLength="41.57" lengthAdjust="spacingAndGlyphs">M4.1</tspan> <tspan x="690.97" textLength="49.47" lengthAdjust="spacingAndGlyphs">12Feb</tspan> <tspan x="746.00" textLength="45.52" lengthAdjust="spacingAndGlyphs">02:54</tspan></text>
<text y="191.10"><tspan x="530.58" textLength="41.57" lengthAdjust="spacingAndGlyphs">M3.9</tspan> <tspan x="577.77" textLength="49.47" lengthAdjust="spacingAndGlyphs">12Feb</tspan> <tspan x="632.80" textLength="44.54" lengthAdjust="spacingAndGlyphs">11:01</tspan></text>
<text y="152.40"><tspan x="771.88" textLength="41.57" lengthAdjust="spacingAndGlyphs">M3.5</tspan> <tspan x="819.07" textLength="48.53" lengthAdjust="spacingAndGlyphs">11Feb</tspan> <tspan x="874.10" textLength="45.52" lengthAdjust="spacingAndGlyphs">23:46</tspan></text>
<text y="192.40"><tspan x="856.68" textLength="41.57" lengthAdjust="spacingAndGlyphs">M4.3</tspan> <tspan x="903.87" textLength="48.53" lengthAdjust="spacingAndGlyphs">11Feb</tspan> <tspan x="958.90" textLength="45.52" lengthAdjust="spacingAndGlyphs">20:10</tspan></text>
<text y="232.60"><tspan x="804.88" textLength="41.57" lengthAdjust="spacingAndGlyphs">M4.4</tspan> <tspan x="852.07" textLength="48.53" lengthAdjust="spacingAndGlyphs">11Feb</tspan> <tspan x="907.10" textLength="45.52" lengthAdjust="spacingAndGlyphs">23:56</tspan></text>
<text y="131.40"><tspan x="926.78" textLength="41.57" lengthAdjust="spacingAndGlyphs">M3.9</tspan> <tspan x="973.97" textLength="48.53" lengthAdjust="spacingAndGlyphs">11Feb</tspan> <tspan x="1029.00" textLength="45.52" lengthAdjust="spacingAndGlyphs">16:59</tspan></text>
<text y="147.20"><tspan x="1112.08" textLength="41.57" lengthAdjust="spacingAndGlyphs">M4.9</tspan> <tspan x="1159.27" textLength="48.53" lengthAdjust="spacingAndGlyphs">11Feb</tspan> <tspan x="1214.30" textLength="45.52" lengthAdjust="spacingAndGlyphs">16:35</tspan></text>
<text y="169.20"><tspan x="1101.98" textLength="41.57" lengthAdjust="spacingAndGlyphs">M5.1</tspan> <tspan x="1149.17" textLength="48.53" lengthAdjust="spacingAndGlyphs">11Feb</tspan> <tspan x="1204.20" textLength="45.52" lengthAdjust="spacingAndGlyphs">18:00</tspan></text>
<text y="193.30"><tspan x="1078.98" textLength="41.57" lengthAdjust="spacingAndGlyphs">M3.8</tspan> <tspan x="1126.17" textLength="48.53" lengthAdjust="spacingAndGlyphs">11Feb</tspan> <tspan x="1181.20" textLength="45.52" lengthAdjust="spacingAndGlyphs">17:31</tspan></text>
<text y="225.20"><tspan x="1040.68" textLength="41.57" lengthAdjust="spacingAndGlyphs">M3.6</tspan> <tspan x="1087.87" textLength="49.47" lengthAdjust="spacingAndGlyphs">12Feb</tspan> <tspan x="1142.90" textLength="45.52" lengthAdjust="spacingAndGlyphs">14:57</tspan></text>
<text y="246.20"><tspan x="1046.88" textLength="41.57" lengthAdjust="spacingAndGlyphs">M5.3</tspan> <tspan x="1094.07" textLength="48.53" lengthAdjust="spacingAndGlyphs">11Feb</tspan> <tspan x="1149.10" textLength="45.52" lengthAdjust="spacingAndGlyphs">22:27</tspan></text>
<text y="290.10"><tspan x="1136.78" textLength="41.57" lengthAdjust="spacingAndGlyphs">M5.4</tspan> <tspan x="1183.97" textLength="49.47" lengthAdjust="spacingAndGlyphs">12Feb</tspan> <tspan x="1239.00" textLength="45.52" lengthAdjust="spacingAndGlyphs">10:30</tspan></text>
<text y="326.50"><tspan x="961.88" textLength="41.57" lengthAdjust="spacingAndGlyphs">M4.8</tspan> <tspan x="1009.07" textLength="49.47" lengthAdjust="spacingAndGlyphs">12Feb</tspan> <tspan x="1064.10" textLength="45.52" lengthAdjust="spacingAndGlyphs">13:14</tspan></text>
<text y="364.30"><tspan x="1030.08" textLength="41.57" lengthAdjust="spacingAndGlyphs">M5.1</tspan> <tspan x="1077.27" textLength="48.53" lengthAdjust="spacingAndGlyphs">11Feb</tspan> <tspan x="1132.30" textLength="45.52" lengthAdjust="spacingAndGlyphs">17:43</tspan></text>
<text y="388.50"><tspan x="1025.18" textLength="41.57" lengthAdjust="spacingAndGlyphs">M4.1</tspan> <tspan x="1072.37" textLength="49.47" lengthAdjust="spacingAndGlyphs">12Feb</tspan> <tspan x="1127.40" textLength="45.52" lengthAdjust="spacingAndGlyphs">14:41</tspan></text>
<text y="420.20"><tspan x="1123.38" textLength="41.57" lengthAdjust="spacingAndGlyphs">M5.1</tspan> <tspan x="1170.57" textLength="49.47" lengthAdjust="spacingAndGlyphs">12Feb</tspan> <tspan x="1225.60" textLength="45.52" lengthAdjust="spacingAndGlyphs">13:52</tspan></text>
</g>
<g id="late"></g>
<g font-family="'Liberation Sans',sans-serif" font-weight="bold" fill="#000" stroke="#000" stroke-width="0.15">
<text y="28.9" font-size="28.8"><tspan x="8.04" textLength="162.99" lengthAdjust="spacingAndGlyphs">Earthquakes</tspan> <tspan x="178.66" textLength="61.83" lengthAdjust="spacingAndGlyphs">M3+</tspan></text>
<text y="57.1" font-size="19.5"><tspan x="8.42" textLength="96.78" lengthAdjust="spacingAndGlyphs">updated:</tspan> <tspan x="105.12" textLength="23.67" lengthAdjust="spacingAndGlyphs">12</tspan> <tspan x="133.39" textLength="35.88" lengthAdjust="spacingAndGlyphs">Feb</tspan> <tspan x="175.87" textLength="47.07" lengthAdjust="spacingAndGlyphs">2026</tspan> <tspan x="228.55" textLength="53.23" lengthAdjust="spacingAndGlyphs">16:20</tspan> <tspan x="288.19" textLength="55.15" lengthAdjust="spacingAndGlyphs">(UTC)</tspan></text>
<text y="34.5" font-size="28.6"><tspan x="1118.00" textLength="31.56" lengthAdjust="spacingAndGlyphs">12</tspan> <tspan x="1156.59" textLength="49.40" lengthAdjust="spacingAndGlyphs">Feb</tspan> <tspan x="1211.62" textLength="64.89" lengthAdjust="spacingAndGlyphs">2026</tspan></text>
</g>
<g font-family="'Liberation Sans',sans-serif" font-size="11.2">
<text y="587.9" fill="#000"><tspan x="8.10" textLength="240.03" lengthAdjust="spacingAndGlyphs">Map base: Robinson projection of the world</tspan></text>
<text y="618.8" fill="#858585"><tspan x="8.64" textLength="205.08" lengthAdjust="spacingAndGlyphs">generated in 0.13ms 12 Feb 2026 16:20</tspan></text>
</g>
<g id="logo"><path d="M881.3 635.5L901.2 623.3L909.8 623.3L927.1 635.5Z" fill="#3a3a3a"/>
<text x="897.2" y="619.6" font-family="'Liberation Sans',sans-serif" font-weight="bold" font-size="19.5" fill="#3a3a3a" stroke="#3a3a3a" stroke-width="1.3" stroke-linejoin="round" textLength="110.0" lengthAdjust="spacingAndGlyphs">VOLCANO</text>
<text x="931.8" y="635.5" font-family="'Liberation Sans',sans-serif" font-weight="bold" font-size="17" fill="#c8142c" textLength="96.6" lengthAdjust="spacingAndGlyphs">DISCOVERY</text></g>
<g id="legend">
<circle cx="1175.2" cy="620.3" r="8.6" fill="#fff" stroke="#c41c20" stroke-width="2.3"/><circle cx="1175.2" cy="620.3" r="3.9" fill="#fff" stroke="#c41c20" stroke-width="3.0"/>
<circle cx="1190.2" cy="620.3" r="8.6" fill="#fff" stroke="#d8401a" stroke-width="2.3"/><circle cx="1190.2" cy="620.3" r="3.9" fill="#fff" stroke="#d8401a" stroke-width="3.0"/>
<circle cx="1205.3" cy="620.3" r="8.6" fill="#fff" stroke="#b09020" stroke-width="2.3"/><circle cx="1205.3" cy="620.3" r="3.9" fill="#fff" stroke="#b09020" stroke-width="3.0"/>
<circle cx="1220.4" cy="620.3" r="8.6" fill="#fff" stroke="#2a9a2a" stroke-width="2.3"/><circle cx="1220.4" cy="620.3" r="3.9" fill="#fff" stroke="#2a9a2a" stroke-width="3.0"/>
<circle cx="1235.4" cy="620.3" r="8.6" fill="#fff" stroke="#1a1ab8" stroke-width="2.3"/><circle cx="1235.4" cy="620.3" r="3.9" fill="#fff" stroke="#1a1ab8" stroke-width="3.0"/>
<circle cx="1250.5" cy="620.3" r="8.6" fill="#fff" stroke="#2a1a78" stroke-width="2.3"/><circle cx="1250.5" cy="620.3" r="3.9" fill="#fff" stroke="#2a1a78" stroke-width="3.0"/>
<text x="1159.4" y="642.6" font-family="'DejaVu Sans','Liberation Sans',sans-serif" font-size="10" fill="#000" textLength="43.4" lengthAdjust="spacing">shallow</text>
<text x="1229.6" y="640.4" font-family="'DejaVu Sans','Liberation Sans',sans-serif" font-size="10" fill="#000" textLength="24.6" lengthAdjust="spacing">deep</text>
</g>
</svg>
</body></html>
